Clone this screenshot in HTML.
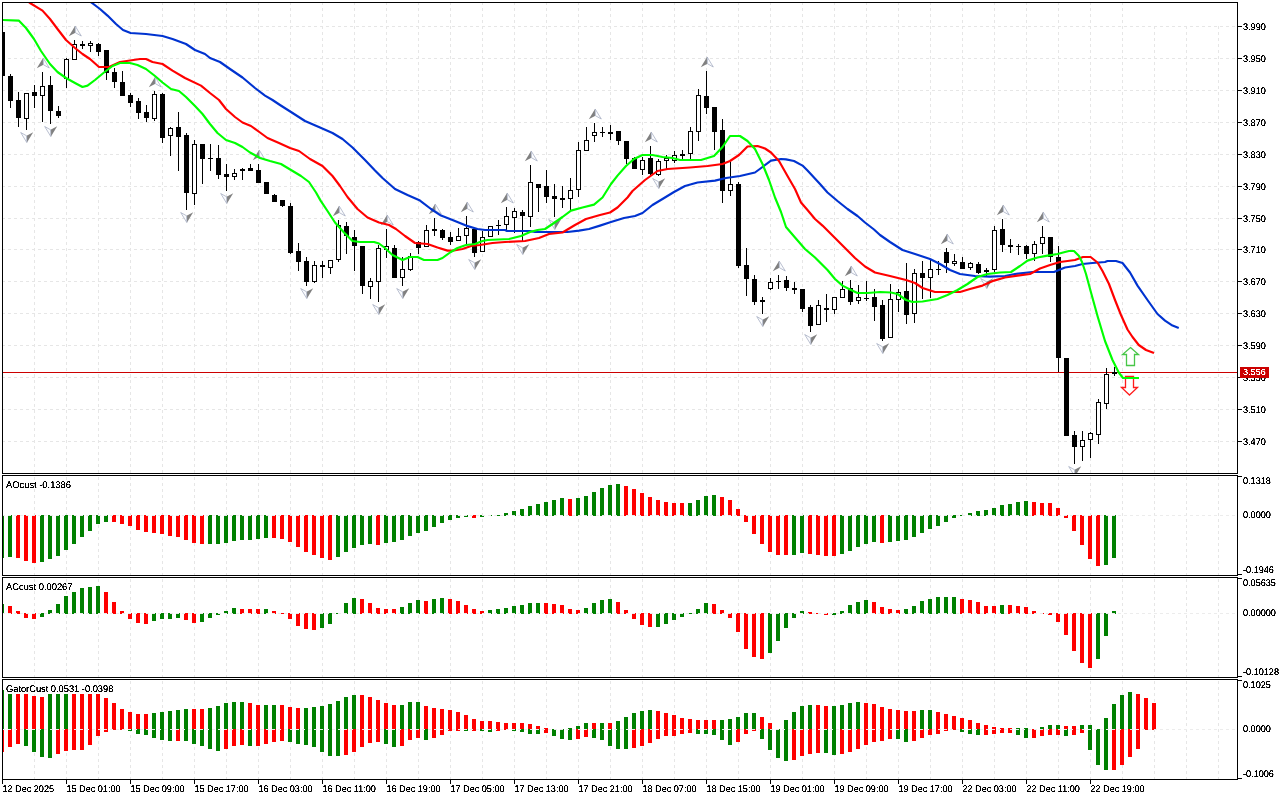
<!DOCTYPE html>
<html><head><meta charset="utf-8"><title>chart</title>
<style>html,body{margin:0;padding:0;background:#fff;overflow:hidden}body{width:1280px;height:800px;position:relative;font-family:"Liberation Sans",sans-serif}</style>
</head><body>
<svg width="1280" height="800" viewBox="0 0 1280 800" shape-rendering="crispEdges" style="position:absolute;left:0;top:0">
<rect width="1280" height="800" fill="#fff"/>
<defs>
<clipPath id="cm"><rect x="3" y="3" width="1234" height="470"/></clipPath>
<clipPath id="cw0"><rect x="3" y="476" width="1234" height="99"/></clipPath>
<clipPath id="cw1"><rect x="3" y="578" width="1234" height="99"/></clipPath>
<clipPath id="cw2"><rect x="3" y="680" width="1234" height="99"/></clipPath>
<filter id="crisp" x="0" y="0" width="1280" height="800" filterUnits="userSpaceOnUse" color-interpolation-filters="sRGB"><feComponentTransfer in="SourceAlpha"><feFuncA type="table" tableValues="0 0 0 0.15 0.8 1 1 1 1 1 1"/></feComponentTransfer></filter>
<filter id="crispw" x="0" y="0" width="1280" height="800" filterUnits="userSpaceOnUse" color-interpolation-filters="sRGB"><feComponentTransfer in="SourceAlpha" result="a"><feFuncA type="table" tableValues="0 0 0 0 0.35 0.85 1 1 1 1 1"/></feComponentTransfer><feFlood flood-color="#fff"/><feComposite in2="a" operator="in"/></filter>
</defs>
<g stroke-width="1" fill="none">
<line x1="2" y1="26.5" x2="1237" y2="26.5" stroke="#e6e6e6" stroke-dasharray="3 3"/>
<line x1="2" y1="58.5" x2="1237" y2="58.5" stroke="#e6e6e6" stroke-dasharray="3 3"/>
<line x1="2" y1="90.5" x2="1237" y2="90.5" stroke="#e6e6e6" stroke-dasharray="3 3"/>
<line x1="2" y1="122.5" x2="1237" y2="122.5" stroke="#e6e6e6" stroke-dasharray="3 3"/>
<line x1="2" y1="154.5" x2="1237" y2="154.5" stroke="#e6e6e6" stroke-dasharray="3 3"/>
<line x1="2" y1="186.5" x2="1237" y2="186.5" stroke="#e6e6e6" stroke-dasharray="3 3"/>
<line x1="2" y1="218.5" x2="1237" y2="218.5" stroke="#e6e6e6" stroke-dasharray="3 3"/>
<line x1="2" y1="249.5" x2="1237" y2="249.5" stroke="#e6e6e6" stroke-dasharray="3 3"/>
<line x1="2" y1="281.5" x2="1237" y2="281.5" stroke="#e6e6e6" stroke-dasharray="3 3"/>
<line x1="2" y1="313.5" x2="1237" y2="313.5" stroke="#e6e6e6" stroke-dasharray="3 3"/>
<line x1="2" y1="345.5" x2="1237" y2="345.5" stroke="#e6e6e6" stroke-dasharray="3 3"/>
<line x1="2" y1="377.5" x2="1237" y2="377.5" stroke="#e6e6e6" stroke-dasharray="3 3"/>
<line x1="2" y1="409.5" x2="1237" y2="409.5" stroke="#e6e6e6" stroke-dasharray="3 3"/>
<line x1="2" y1="441.5" x2="1237" y2="441.5" stroke="#e6e6e6" stroke-dasharray="3 3"/>
<line x1="34.5" y1="2" x2="34.5" y2="473" stroke="#e6e6e6" stroke-dasharray="3 3"/>
<line x1="66.5" y1="2" x2="66.5" y2="473" stroke="#e6e6e6" stroke-dasharray="3 3"/>
<line x1="98.5" y1="2" x2="98.5" y2="473" stroke="#e6e6e6" stroke-dasharray="3 3"/>
<line x1="130.5" y1="2" x2="130.5" y2="473" stroke="#e6e6e6" stroke-dasharray="3 3"/>
<line x1="162.5" y1="2" x2="162.5" y2="473" stroke="#e6e6e6" stroke-dasharray="3 3"/>
<line x1="194.5" y1="2" x2="194.5" y2="473" stroke="#e6e6e6" stroke-dasharray="3 3"/>
<line x1="226.5" y1="2" x2="226.5" y2="473" stroke="#e6e6e6" stroke-dasharray="3 3"/>
<line x1="258.5" y1="2" x2="258.5" y2="473" stroke="#e6e6e6" stroke-dasharray="3 3"/>
<line x1="290.5" y1="2" x2="290.5" y2="473" stroke="#e6e6e6" stroke-dasharray="3 3"/>
<line x1="322.5" y1="2" x2="322.5" y2="473" stroke="#e6e6e6" stroke-dasharray="3 3"/>
<line x1="354.5" y1="2" x2="354.5" y2="473" stroke="#e6e6e6" stroke-dasharray="3 3"/>
<line x1="386.5" y1="2" x2="386.5" y2="473" stroke="#e6e6e6" stroke-dasharray="3 3"/>
<line x1="418.5" y1="2" x2="418.5" y2="473" stroke="#e6e6e6" stroke-dasharray="3 3"/>
<line x1="450.5" y1="2" x2="450.5" y2="473" stroke="#e6e6e6" stroke-dasharray="3 3"/>
<line x1="482.5" y1="2" x2="482.5" y2="473" stroke="#e6e6e6" stroke-dasharray="3 3"/>
<line x1="514.5" y1="2" x2="514.5" y2="473" stroke="#e6e6e6" stroke-dasharray="3 3"/>
<line x1="546.5" y1="2" x2="546.5" y2="473" stroke="#e6e6e6" stroke-dasharray="3 3"/>
<line x1="578.5" y1="2" x2="578.5" y2="473" stroke="#e6e6e6" stroke-dasharray="3 3"/>
<line x1="610.5" y1="2" x2="610.5" y2="473" stroke="#e6e6e6" stroke-dasharray="3 3"/>
<line x1="642.5" y1="2" x2="642.5" y2="473" stroke="#e6e6e6" stroke-dasharray="3 3"/>
<line x1="674.5" y1="2" x2="674.5" y2="473" stroke="#e6e6e6" stroke-dasharray="3 3"/>
<line x1="706.5" y1="2" x2="706.5" y2="473" stroke="#e6e6e6" stroke-dasharray="3 3"/>
<line x1="738.5" y1="2" x2="738.5" y2="473" stroke="#e6e6e6" stroke-dasharray="3 3"/>
<line x1="770.5" y1="2" x2="770.5" y2="473" stroke="#e6e6e6" stroke-dasharray="3 3"/>
<line x1="802.5" y1="2" x2="802.5" y2="473" stroke="#e6e6e6" stroke-dasharray="3 3"/>
<line x1="834.5" y1="2" x2="834.5" y2="473" stroke="#e6e6e6" stroke-dasharray="3 3"/>
<line x1="866.5" y1="2" x2="866.5" y2="473" stroke="#e6e6e6" stroke-dasharray="3 3"/>
<line x1="898.5" y1="2" x2="898.5" y2="473" stroke="#e6e6e6" stroke-dasharray="3 3"/>
<line x1="930.5" y1="2" x2="930.5" y2="473" stroke="#e6e6e6" stroke-dasharray="3 3"/>
<line x1="962.5" y1="2" x2="962.5" y2="473" stroke="#e6e6e6" stroke-dasharray="3 3"/>
<line x1="994.5" y1="2" x2="994.5" y2="473" stroke="#e6e6e6" stroke-dasharray="3 3"/>
<line x1="1026.5" y1="2" x2="1026.5" y2="473" stroke="#e6e6e6" stroke-dasharray="3 3"/>
<line x1="1058.5" y1="2" x2="1058.5" y2="473" stroke="#e6e6e6" stroke-dasharray="3 3"/>
<line x1="1090.5" y1="2" x2="1090.5" y2="473" stroke="#e6e6e6" stroke-dasharray="3 3"/>
<line x1="1122.5" y1="2" x2="1122.5" y2="473" stroke="#e6e6e6" stroke-dasharray="3 3"/>
<line x1="1154.5" y1="26" x2="1154.5" y2="473" stroke="#e6e6e6" stroke-dasharray="3 3"/>
<line x1="1186.5" y1="26" x2="1186.5" y2="473" stroke="#e6e6e6" stroke-dasharray="3 3"/>
<line x1="1218.5" y1="26" x2="1218.5" y2="473" stroke="#e6e6e6" stroke-dasharray="3 3"/>
</g>
<line x1="3" y1="372.5" x2="1237" y2="372.5" stroke="#cc0000"/>
<g clip-path="url(#cm)">
<rect x="2" y="32" width="1" height="44" fill="#000"/>
<rect x="0" y="32" width="5" height="44" fill="#000"/>
<rect x="10" y="74" width="1" height="34" fill="#000"/>
<rect x="8" y="76" width="5" height="25" fill="#000"/>
<rect x="18" y="92" width="1" height="35" fill="#000"/>
<rect x="16" y="100" width="5" height="18" fill="#000"/>
<rect x="26" y="93" width="1" height="37" fill="#000"/>
<rect x="24.5" y="93.5" width="4" height="25" fill="#fff" stroke="#000" stroke-width="1"/>
<rect x="34" y="85" width="1" height="23" fill="#000"/>
<rect x="32" y="92" width="5" height="4" fill="#000"/>
<rect x="42" y="72" width="1" height="50" fill="#000"/>
<rect x="40.5" y="86.5" width="4" height="9" fill="#fff" stroke="#000" stroke-width="1"/>
<rect x="50" y="76" width="1" height="48" fill="#000"/>
<rect x="48" y="85" width="5" height="26" fill="#000"/>
<rect x="58" y="106" width="1" height="12" fill="#000"/>
<rect x="56" y="111" width="5" height="5" fill="#000"/>
<rect x="66" y="58" width="1" height="30" fill="#000"/>
<rect x="64.5" y="59.5" width="4" height="19" fill="#fff" stroke="#000" stroke-width="1"/>
<rect x="74" y="40" width="1" height="20" fill="#000"/>
<rect x="72.5" y="44.5" width="4" height="15" fill="#fff" stroke="#000" stroke-width="1"/>
<rect x="82" y="41" width="1" height="8" fill="#000"/>
<rect x="80" y="44" width="5" height="2" fill="#000"/>
<rect x="90" y="41" width="1" height="11" fill="#000"/>
<rect x="88.5" y="43.5" width="4" height="2" fill="#fff" stroke="#000" stroke-width="1"/>
<rect x="98" y="43" width="1" height="13" fill="#000"/>
<rect x="96" y="44" width="5" height="8" fill="#000"/>
<rect x="106" y="50" width="1" height="30" fill="#000"/>
<rect x="104" y="50" width="5" height="23" fill="#000"/>
<rect x="114" y="68" width="1" height="20" fill="#000"/>
<rect x="112" y="72" width="5" height="10" fill="#000"/>
<rect x="122" y="71" width="1" height="25" fill="#000"/>
<rect x="120" y="82" width="5" height="14" fill="#000"/>
<rect x="130" y="93" width="1" height="14" fill="#000"/>
<rect x="128" y="95" width="5" height="8" fill="#000"/>
<rect x="138" y="98" width="1" height="21" fill="#000"/>
<rect x="136" y="101" width="5" height="12" fill="#000"/>
<rect x="146" y="105" width="1" height="17" fill="#000"/>
<rect x="144" y="112" width="5" height="6" fill="#000"/>
<rect x="154" y="91" width="1" height="30" fill="#000"/>
<rect x="152.5" y="94.5" width="4" height="24" fill="#fff" stroke="#000" stroke-width="1"/>
<rect x="162" y="93" width="1" height="50" fill="#000"/>
<rect x="160" y="94" width="5" height="44" fill="#000"/>
<rect x="170" y="127" width="1" height="29" fill="#000"/>
<rect x="168.5" y="128.5" width="4" height="7" fill="#fff" stroke="#000" stroke-width="1"/>
<rect x="178" y="112" width="1" height="59" fill="#000"/>
<rect x="176" y="127" width="5" height="10" fill="#000"/>
<rect x="186" y="133" width="1" height="77" fill="#000"/>
<rect x="184" y="135" width="5" height="58" fill="#000"/>
<rect x="194" y="140" width="1" height="65" fill="#000"/>
<rect x="192.5" y="144.5" width="4" height="49" fill="#fff" stroke="#000" stroke-width="1"/>
<rect x="202" y="144" width="1" height="40" fill="#000"/>
<rect x="200" y="144" width="5" height="15" fill="#000"/>
<rect x="210" y="144" width="1" height="27" fill="#000"/>
<rect x="208" y="158" width="5" height="1" fill="#000"/>
<rect x="218" y="145" width="1" height="34" fill="#000"/>
<rect x="216" y="158" width="5" height="17" fill="#000"/>
<rect x="226" y="164" width="1" height="27" fill="#000"/>
<rect x="224" y="174" width="5" height="3" fill="#000"/>
<rect x="234" y="169" width="1" height="11" fill="#000"/>
<rect x="232.5" y="173.5" width="4" height="3" fill="#fff" stroke="#000" stroke-width="1"/>
<rect x="242" y="168" width="1" height="12" fill="#000"/>
<rect x="240" y="169" width="5" height="2" fill="#000"/>
<rect x="250" y="164" width="1" height="7" fill="#000"/>
<rect x="248" y="168" width="5" height="3" fill="#000"/>
<rect x="258" y="164" width="1" height="19" fill="#000"/>
<rect x="256" y="170" width="5" height="13" fill="#000"/>
<rect x="266" y="182" width="1" height="12" fill="#000"/>
<rect x="264" y="182" width="5" height="12" fill="#000"/>
<rect x="274" y="194" width="1" height="8" fill="#000"/>
<rect x="272" y="195" width="5" height="7" fill="#000"/>
<rect x="282" y="200" width="1" height="7" fill="#000"/>
<rect x="280" y="200" width="5" height="6" fill="#000"/>
<rect x="290" y="203" width="1" height="51" fill="#000"/>
<rect x="288" y="206" width="5" height="47" fill="#000"/>
<rect x="298" y="243" width="1" height="28" fill="#000"/>
<rect x="296" y="251" width="5" height="11" fill="#000"/>
<rect x="306" y="257" width="1" height="29" fill="#000"/>
<rect x="304" y="261" width="5" height="21" fill="#000"/>
<rect x="314" y="261" width="1" height="22" fill="#000"/>
<rect x="312.5" y="265.5" width="4" height="16" fill="#fff" stroke="#000" stroke-width="1"/>
<rect x="322" y="261" width="1" height="17" fill="#000"/>
<rect x="320" y="265" width="5" height="2" fill="#000"/>
<rect x="330" y="260" width="1" height="14" fill="#000"/>
<rect x="328.5" y="260.5" width="4" height="7" fill="#fff" stroke="#000" stroke-width="1"/>
<rect x="338" y="220" width="1" height="42" fill="#000"/>
<rect x="336.5" y="225.5" width="4" height="34" fill="#fff" stroke="#000" stroke-width="1"/>
<rect x="346" y="222" width="1" height="32" fill="#000"/>
<rect x="344" y="226" width="5" height="10" fill="#000"/>
<rect x="354" y="230" width="1" height="41" fill="#000"/>
<rect x="352" y="237" width="5" height="9" fill="#000"/>
<rect x="362" y="246" width="1" height="48" fill="#000"/>
<rect x="360" y="246" width="5" height="40" fill="#000"/>
<rect x="370" y="278" width="1" height="21" fill="#000"/>
<rect x="368.5" y="281.5" width="4" height="5" fill="#fff" stroke="#000" stroke-width="1"/>
<rect x="378" y="245" width="1" height="57" fill="#000"/>
<rect x="376.5" y="248.5" width="4" height="33" fill="#fff" stroke="#000" stroke-width="1"/>
<rect x="386" y="229" width="1" height="29" fill="#000"/>
<rect x="384.5" y="246.5" width="4" height="3" fill="#fff" stroke="#000" stroke-width="1"/>
<rect x="394" y="245" width="1" height="33" fill="#000"/>
<rect x="392" y="248" width="5" height="30" fill="#000"/>
<rect x="402" y="257" width="1" height="29" fill="#000"/>
<rect x="400.5" y="269.5" width="4" height="8" fill="#fff" stroke="#000" stroke-width="1"/>
<rect x="410" y="253" width="1" height="18" fill="#000"/>
<rect x="408.5" y="256.5" width="4" height="13" fill="#fff" stroke="#000" stroke-width="1"/>
<rect x="418" y="241" width="1" height="13" fill="#000"/>
<rect x="416" y="242" width="5" height="6" fill="#000"/>
<rect x="426" y="225" width="1" height="22" fill="#000"/>
<rect x="424.5" y="230.5" width="4" height="16" fill="#fff" stroke="#000" stroke-width="1"/>
<rect x="434" y="218" width="1" height="18" fill="#000"/>
<rect x="432" y="229" width="5" height="2" fill="#000"/>
<rect x="442" y="229" width="1" height="11" fill="#000"/>
<rect x="440" y="230" width="5" height="8" fill="#000"/>
<rect x="450" y="232" width="1" height="13" fill="#000"/>
<rect x="448" y="237" width="5" height="5" fill="#000"/>
<rect x="458" y="228" width="1" height="13" fill="#000"/>
<rect x="456.5" y="236.5" width="4" height="4" fill="#fff" stroke="#000" stroke-width="1"/>
<rect x="466" y="216" width="1" height="28" fill="#000"/>
<rect x="464.5" y="228.5" width="4" height="7" fill="#fff" stroke="#000" stroke-width="1"/>
<rect x="474" y="229" width="1" height="28" fill="#000"/>
<rect x="472" y="229" width="5" height="24" fill="#000"/>
<rect x="482" y="231" width="1" height="21" fill="#000"/>
<rect x="480.5" y="237.5" width="4" height="14" fill="#fff" stroke="#000" stroke-width="1"/>
<rect x="490" y="226" width="1" height="11" fill="#000"/>
<rect x="488.5" y="226.5" width="4" height="10" fill="#fff" stroke="#000" stroke-width="1"/>
<rect x="498" y="220" width="1" height="15" fill="#000"/>
<rect x="496" y="225" width="5" height="1" fill="#000"/>
<rect x="506" y="207" width="1" height="23" fill="#000"/>
<rect x="504.5" y="216.5" width="4" height="8" fill="#fff" stroke="#000" stroke-width="1"/>
<rect x="514" y="208" width="1" height="25" fill="#000"/>
<rect x="512.5" y="211.5" width="4" height="6" fill="#fff" stroke="#000" stroke-width="1"/>
<rect x="522" y="210" width="1" height="32" fill="#000"/>
<rect x="520" y="212" width="5" height="4" fill="#000"/>
<rect x="530" y="165" width="1" height="62" fill="#000"/>
<rect x="528.5" y="182.5" width="4" height="34" fill="#fff" stroke="#000" stroke-width="1"/>
<rect x="538" y="184" width="1" height="28" fill="#000"/>
<rect x="536" y="184" width="5" height="4" fill="#000"/>
<rect x="546" y="170" width="1" height="33" fill="#000"/>
<rect x="544" y="186" width="5" height="11" fill="#000"/>
<rect x="554" y="184" width="1" height="33" fill="#000"/>
<rect x="552" y="196" width="5" height="3" fill="#000"/>
<rect x="562" y="186" width="1" height="22" fill="#000"/>
<rect x="560" y="198" width="5" height="2" fill="#000"/>
<rect x="570" y="178" width="1" height="32" fill="#000"/>
<rect x="568.5" y="190.5" width="4" height="8" fill="#fff" stroke="#000" stroke-width="1"/>
<rect x="578" y="142" width="1" height="55" fill="#000"/>
<rect x="576.5" y="150.5" width="4" height="39" fill="#fff" stroke="#000" stroke-width="1"/>
<rect x="586" y="127" width="1" height="24" fill="#000"/>
<rect x="584.5" y="140.5" width="4" height="10" fill="#fff" stroke="#000" stroke-width="1"/>
<rect x="594" y="123" width="1" height="19" fill="#000"/>
<rect x="592.5" y="132.5" width="4" height="3" fill="#fff" stroke="#000" stroke-width="1"/>
<rect x="602" y="127" width="1" height="10" fill="#000"/>
<rect x="600" y="132" width="5" height="1" fill="#000"/>
<rect x="610" y="125" width="1" height="15" fill="#000"/>
<rect x="608" y="132" width="5" height="2" fill="#000"/>
<rect x="618" y="131" width="1" height="14" fill="#000"/>
<rect x="616" y="131" width="5" height="10" fill="#000"/>
<rect x="626" y="141" width="1" height="23" fill="#000"/>
<rect x="624" y="141" width="5" height="18" fill="#000"/>
<rect x="634" y="157" width="1" height="12" fill="#000"/>
<rect x="632" y="158" width="5" height="11" fill="#000"/>
<rect x="642" y="157" width="1" height="18" fill="#000"/>
<rect x="640.5" y="160.5" width="4" height="9" fill="#fff" stroke="#000" stroke-width="1"/>
<rect x="650" y="146" width="1" height="29" fill="#000"/>
<rect x="648" y="158" width="5" height="16" fill="#000"/>
<rect x="658" y="159" width="1" height="17" fill="#000"/>
<rect x="656.5" y="161.5" width="4" height="13" fill="#fff" stroke="#000" stroke-width="1"/>
<rect x="666" y="155" width="1" height="14" fill="#000"/>
<rect x="664.5" y="158.5" width="4" height="2" fill="#fff" stroke="#000" stroke-width="1"/>
<rect x="674" y="151" width="1" height="12" fill="#000"/>
<rect x="672.5" y="155.5" width="4" height="5" fill="#fff" stroke="#000" stroke-width="1"/>
<rect x="682" y="150" width="1" height="9" fill="#000"/>
<rect x="680" y="154" width="5" height="2" fill="#000"/>
<rect x="690" y="127" width="1" height="32" fill="#000"/>
<rect x="688.5" y="131.5" width="4" height="22" fill="#fff" stroke="#000" stroke-width="1"/>
<rect x="698" y="89" width="1" height="52" fill="#000"/>
<rect x="696.5" y="95.5" width="4" height="36" fill="#fff" stroke="#000" stroke-width="1"/>
<rect x="706" y="71" width="1" height="43" fill="#000"/>
<rect x="704" y="96" width="5" height="12" fill="#000"/>
<rect x="714" y="107" width="1" height="43" fill="#000"/>
<rect x="712" y="107" width="5" height="25" fill="#000"/>
<rect x="722" y="119" width="1" height="84" fill="#000"/>
<rect x="720" y="130" width="5" height="61" fill="#000"/>
<rect x="730" y="162" width="1" height="34" fill="#000"/>
<rect x="728.5" y="184.5" width="4" height="6" fill="#fff" stroke="#000" stroke-width="1"/>
<rect x="738" y="182" width="1" height="86" fill="#000"/>
<rect x="736" y="184" width="5" height="82" fill="#000"/>
<rect x="746" y="248" width="1" height="48" fill="#000"/>
<rect x="744" y="265" width="5" height="14" fill="#000"/>
<rect x="754" y="275" width="1" height="30" fill="#000"/>
<rect x="752" y="279" width="5" height="23" fill="#000"/>
<rect x="762" y="297" width="1" height="17" fill="#000"/>
<rect x="760" y="300" width="5" height="2" fill="#000"/>
<rect x="770" y="278" width="1" height="12" fill="#000"/>
<rect x="768.5" y="282.5" width="4" height="6" fill="#fff" stroke="#000" stroke-width="1"/>
<rect x="778" y="275" width="1" height="14" fill="#000"/>
<rect x="776" y="281" width="5" height="1" fill="#000"/>
<rect x="786" y="276" width="1" height="15" fill="#000"/>
<rect x="784" y="280" width="5" height="8" fill="#000"/>
<rect x="794" y="282" width="1" height="12" fill="#000"/>
<rect x="792" y="288" width="5" height="2" fill="#000"/>
<rect x="802" y="289" width="1" height="23" fill="#000"/>
<rect x="800" y="289" width="5" height="20" fill="#000"/>
<rect x="810" y="305" width="1" height="27" fill="#000"/>
<rect x="808" y="307" width="5" height="19" fill="#000"/>
<rect x="818" y="300" width="1" height="25" fill="#000"/>
<rect x="816.5" y="305.5" width="4" height="19" fill="#fff" stroke="#000" stroke-width="1"/>
<rect x="826" y="294" width="1" height="28" fill="#000"/>
<rect x="824" y="308" width="5" height="2" fill="#000"/>
<rect x="834" y="297" width="1" height="17" fill="#000"/>
<rect x="832.5" y="297.5" width="4" height="12" fill="#fff" stroke="#000" stroke-width="1"/>
<rect x="842" y="281" width="1" height="17" fill="#000"/>
<rect x="840.5" y="289.5" width="4" height="8" fill="#fff" stroke="#000" stroke-width="1"/>
<rect x="850" y="280" width="1" height="25" fill="#000"/>
<rect x="848" y="288" width="5" height="14" fill="#000"/>
<rect x="858" y="285" width="1" height="19" fill="#000"/>
<rect x="856.5" y="297.5" width="4" height="3" fill="#fff" stroke="#000" stroke-width="1"/>
<rect x="866" y="281" width="1" height="20" fill="#000"/>
<rect x="864" y="298" width="5" height="1" fill="#000"/>
<rect x="874" y="289" width="1" height="32" fill="#000"/>
<rect x="872" y="297" width="5" height="10" fill="#000"/>
<rect x="882" y="300" width="1" height="41" fill="#000"/>
<rect x="880" y="305" width="5" height="34" fill="#000"/>
<rect x="890" y="284" width="1" height="54" fill="#000"/>
<rect x="888.5" y="299.5" width="4" height="38" fill="#fff" stroke="#000" stroke-width="1"/>
<rect x="898" y="289" width="1" height="23" fill="#000"/>
<rect x="896.5" y="292.5" width="4" height="7" fill="#fff" stroke="#000" stroke-width="1"/>
<rect x="906" y="263" width="1" height="61" fill="#000"/>
<rect x="904" y="291" width="5" height="24" fill="#000"/>
<rect x="914" y="269" width="1" height="54" fill="#000"/>
<rect x="912.5" y="273.5" width="4" height="40" fill="#fff" stroke="#000" stroke-width="1"/>
<rect x="922" y="261" width="1" height="38" fill="#000"/>
<rect x="920" y="273" width="5" height="5" fill="#000"/>
<rect x="930" y="260" width="1" height="38" fill="#000"/>
<rect x="928.5" y="269.5" width="4" height="8" fill="#fff" stroke="#000" stroke-width="1"/>
<rect x="938" y="261" width="1" height="14" fill="#000"/>
<rect x="936" y="269" width="5" height="1" fill="#000"/>
<rect x="946" y="248" width="1" height="25" fill="#000"/>
<rect x="944" y="252" width="5" height="11" fill="#000"/>
<rect x="954" y="254" width="1" height="12" fill="#000"/>
<rect x="952.5" y="261.5" width="4" height="2" fill="#fff" stroke="#000" stroke-width="1"/>
<rect x="962" y="257" width="1" height="12" fill="#000"/>
<rect x="960" y="262" width="5" height="7" fill="#000"/>
<rect x="970" y="262" width="1" height="8" fill="#000"/>
<rect x="968.5" y="263.5" width="4" height="4" fill="#fff" stroke="#000" stroke-width="1"/>
<rect x="978" y="262" width="1" height="12" fill="#000"/>
<rect x="976" y="264" width="5" height="9" fill="#000"/>
<rect x="986" y="268" width="1" height="8" fill="#000"/>
<rect x="984" y="270" width="5" height="2" fill="#000"/>
<rect x="994" y="226" width="1" height="46" fill="#000"/>
<rect x="992.5" y="230.5" width="4" height="39" fill="#fff" stroke="#000" stroke-width="1"/>
<rect x="1002" y="219" width="1" height="33" fill="#000"/>
<rect x="1000" y="229" width="5" height="16" fill="#000"/>
<rect x="1010" y="239" width="1" height="14" fill="#000"/>
<rect x="1008" y="245" width="5" height="2" fill="#000"/>
<rect x="1018" y="244" width="1" height="11" fill="#000"/>
<rect x="1016" y="246" width="5" height="1" fill="#000"/>
<rect x="1026" y="245" width="1" height="14" fill="#000"/>
<rect x="1024" y="246" width="5" height="8" fill="#000"/>
<rect x="1034" y="241" width="1" height="20" fill="#000"/>
<rect x="1032.5" y="244.5" width="4" height="9" fill="#fff" stroke="#000" stroke-width="1"/>
<rect x="1042" y="226" width="1" height="28" fill="#000"/>
<rect x="1040.5" y="237.5" width="4" height="6" fill="#fff" stroke="#000" stroke-width="1"/>
<rect x="1050" y="237" width="1" height="25" fill="#000"/>
<rect x="1048" y="237" width="5" height="20" fill="#000"/>
<rect x="1058" y="246" width="1" height="126" fill="#000"/>
<rect x="1056" y="257" width="5" height="101" fill="#000"/>
<rect x="1066" y="358" width="1" height="78" fill="#000"/>
<rect x="1064" y="358" width="5" height="78" fill="#000"/>
<rect x="1074" y="431" width="1" height="33" fill="#000"/>
<rect x="1072" y="435" width="5" height="12" fill="#000"/>
<rect x="1082" y="431" width="1" height="30" fill="#000"/>
<rect x="1080.5" y="440.5" width="4" height="6" fill="#fff" stroke="#000" stroke-width="1"/>
<rect x="1090" y="432" width="1" height="26" fill="#000"/>
<rect x="1088.5" y="433.5" width="4" height="6" fill="#fff" stroke="#000" stroke-width="1"/>
<rect x="1098" y="399" width="1" height="45" fill="#000"/>
<rect x="1096.5" y="402.5" width="4" height="32" fill="#fff" stroke="#000" stroke-width="1"/>
<rect x="1106" y="368" width="1" height="41" fill="#000"/>
<rect x="1104.5" y="374.5" width="4" height="29" fill="#fff" stroke="#000" stroke-width="1"/>
<rect x="1114" y="367" width="1" height="9" fill="#000"/>
<rect x="1112" y="372" width="5" height="2" fill="#000"/>
</g>
<g clip-path="url(#cm)">
<g shape-rendering="geometricPrecision" fill="#fff" stroke-width="1.3">
<polygon points="1130.5,347.5 1138.5,354.5 1134.5,354.5 1134.5,365.5 1126.5,365.5 1126.5,354.5 1122.5,354.5" stroke="#48c648"/>
<polygon points="1129.5,395 1137.5,387.5 1133.5,387.5 1133.5,376.5 1125.5,376.5 1125.5,387.5 1121.5,387.5" stroke="#ff1a1a" fill="none"/>
</g>
<g transform="translate(43,58)" shape-rendering="geometricPrecision"><polygon points="0.2,-0.2 -6.2,10.2 0.4,6.7" fill="#808080"/><polygon points="0.2,0 6.3,10 0.4,6.7" fill="#fbfcfe" stroke="#a3abc0" stroke-width="0.75" stroke-linejoin="round"/></g>
<g transform="translate(75,26)" shape-rendering="geometricPrecision"><polygon points="0.2,-0.2 -6.2,10.2 0.4,6.7" fill="#808080"/><polygon points="0.2,0 6.3,10 0.4,6.7" fill="#fbfcfe" stroke="#a3abc0" stroke-width="0.75" stroke-linejoin="round"/></g>
<g transform="translate(155,77)" shape-rendering="geometricPrecision"><polygon points="0.2,-0.2 -6.2,10.2 0.4,6.7" fill="#808080"/><polygon points="0.2,0 6.3,10 0.4,6.7" fill="#fbfcfe" stroke="#a3abc0" stroke-width="0.75" stroke-linejoin="round"/></g>
<g transform="translate(259,150)" shape-rendering="geometricPrecision"><polygon points="0.2,-0.2 -6.2,10.2 0.4,6.7" fill="#808080"/><polygon points="0.2,0 6.3,10 0.4,6.7" fill="#fbfcfe" stroke="#a3abc0" stroke-width="0.75" stroke-linejoin="round"/></g>
<g transform="translate(339,206)" shape-rendering="geometricPrecision"><polygon points="0.2,-0.2 -6.2,10.2 0.4,6.7" fill="#808080"/><polygon points="0.2,0 6.3,10 0.4,6.7" fill="#fbfcfe" stroke="#a3abc0" stroke-width="0.75" stroke-linejoin="round"/></g>
<g transform="translate(387,215)" shape-rendering="geometricPrecision"><polygon points="0.2,-0.2 -6.2,10.2 0.4,6.7" fill="#808080"/><polygon points="0.2,0 6.3,10 0.4,6.7" fill="#fbfcfe" stroke="#a3abc0" stroke-width="0.75" stroke-linejoin="round"/></g>
<g transform="translate(435,204)" shape-rendering="geometricPrecision"><polygon points="0.2,-0.2 -6.2,10.2 0.4,6.7" fill="#808080"/><polygon points="0.2,0 6.3,10 0.4,6.7" fill="#fbfcfe" stroke="#a3abc0" stroke-width="0.75" stroke-linejoin="round"/></g>
<g transform="translate(467,202)" shape-rendering="geometricPrecision"><polygon points="0.2,-0.2 -6.2,10.2 0.4,6.7" fill="#808080"/><polygon points="0.2,0 6.3,10 0.4,6.7" fill="#fbfcfe" stroke="#a3abc0" stroke-width="0.75" stroke-linejoin="round"/></g>
<g transform="translate(507,193)" shape-rendering="geometricPrecision"><polygon points="0.2,-0.2 -6.2,10.2 0.4,6.7" fill="#808080"/><polygon points="0.2,0 6.3,10 0.4,6.7" fill="#fbfcfe" stroke="#a3abc0" stroke-width="0.75" stroke-linejoin="round"/></g>
<g transform="translate(531,151)" shape-rendering="geometricPrecision"><polygon points="0.2,-0.2 -6.2,10.2 0.4,6.7" fill="#808080"/><polygon points="0.2,0 6.3,10 0.4,6.7" fill="#fbfcfe" stroke="#a3abc0" stroke-width="0.75" stroke-linejoin="round"/></g>
<g transform="translate(595,109)" shape-rendering="geometricPrecision"><polygon points="0.2,-0.2 -6.2,10.2 0.4,6.7" fill="#808080"/><polygon points="0.2,0 6.3,10 0.4,6.7" fill="#fbfcfe" stroke="#a3abc0" stroke-width="0.75" stroke-linejoin="round"/></g>
<g transform="translate(651,132)" shape-rendering="geometricPrecision"><polygon points="0.2,-0.2 -6.2,10.2 0.4,6.7" fill="#808080"/><polygon points="0.2,0 6.3,10 0.4,6.7" fill="#fbfcfe" stroke="#a3abc0" stroke-width="0.75" stroke-linejoin="round"/></g>
<g transform="translate(707,57)" shape-rendering="geometricPrecision"><polygon points="0.2,-0.2 -6.2,10.2 0.4,6.7" fill="#808080"/><polygon points="0.2,0 6.3,10 0.4,6.7" fill="#fbfcfe" stroke="#a3abc0" stroke-width="0.75" stroke-linejoin="round"/></g>
<g transform="translate(779,261)" shape-rendering="geometricPrecision"><polygon points="0.2,-0.2 -6.2,10.2 0.4,6.7" fill="#808080"/><polygon points="0.2,0 6.3,10 0.4,6.7" fill="#fbfcfe" stroke="#a3abc0" stroke-width="0.75" stroke-linejoin="round"/></g>
<g transform="translate(851,266)" shape-rendering="geometricPrecision"><polygon points="0.2,-0.2 -6.2,10.2 0.4,6.7" fill="#808080"/><polygon points="0.2,0 6.3,10 0.4,6.7" fill="#fbfcfe" stroke="#a3abc0" stroke-width="0.75" stroke-linejoin="round"/></g>
<g transform="translate(947,234)" shape-rendering="geometricPrecision"><polygon points="0.2,-0.2 -6.2,10.2 0.4,6.7" fill="#808080"/><polygon points="0.2,0 6.3,10 0.4,6.7" fill="#fbfcfe" stroke="#a3abc0" stroke-width="0.75" stroke-linejoin="round"/></g>
<g transform="translate(1003,205)" shape-rendering="geometricPrecision"><polygon points="0.2,-0.2 -6.2,10.2 0.4,6.7" fill="#808080"/><polygon points="0.2,0 6.3,10 0.4,6.7" fill="#fbfcfe" stroke="#a3abc0" stroke-width="0.75" stroke-linejoin="round"/></g>
<g transform="translate(1043,212)" shape-rendering="geometricPrecision"><polygon points="0.2,-0.2 -6.2,10.2 0.4,6.7" fill="#808080"/><polygon points="0.2,0 6.3,10 0.4,6.7" fill="#fbfcfe" stroke="#a3abc0" stroke-width="0.75" stroke-linejoin="round"/></g>
<g transform="translate(27,142.5) rotate(180)" shape-rendering="geometricPrecision"><polygon points="0.2,-0.2 -6.2,10.2 0.4,6.7" fill="#808080"/><polygon points="0.2,0 6.3,10 0.4,6.7" fill="#fbfcfe" stroke="#a3abc0" stroke-width="0.75" stroke-linejoin="round"/></g>
<g transform="translate(51,136.5) rotate(180)" shape-rendering="geometricPrecision"><polygon points="0.2,-0.2 -6.2,10.2 0.4,6.7" fill="#808080"/><polygon points="0.2,0 6.3,10 0.4,6.7" fill="#fbfcfe" stroke="#a3abc0" stroke-width="0.75" stroke-linejoin="round"/></g>
<g transform="translate(187,222.5) rotate(180)" shape-rendering="geometricPrecision"><polygon points="0.2,-0.2 -6.2,10.2 0.4,6.7" fill="#808080"/><polygon points="0.2,0 6.3,10 0.4,6.7" fill="#fbfcfe" stroke="#a3abc0" stroke-width="0.75" stroke-linejoin="round"/></g>
<g transform="translate(227,203.5) rotate(180)" shape-rendering="geometricPrecision"><polygon points="0.2,-0.2 -6.2,10.2 0.4,6.7" fill="#808080"/><polygon points="0.2,0 6.3,10 0.4,6.7" fill="#fbfcfe" stroke="#a3abc0" stroke-width="0.75" stroke-linejoin="round"/></g>
<g transform="translate(307,298.5) rotate(180)" shape-rendering="geometricPrecision"><polygon points="0.2,-0.2 -6.2,10.2 0.4,6.7" fill="#808080"/><polygon points="0.2,0 6.3,10 0.4,6.7" fill="#fbfcfe" stroke="#a3abc0" stroke-width="0.75" stroke-linejoin="round"/></g>
<g transform="translate(379,314.5) rotate(180)" shape-rendering="geometricPrecision"><polygon points="0.2,-0.2 -6.2,10.2 0.4,6.7" fill="#808080"/><polygon points="0.2,0 6.3,10 0.4,6.7" fill="#fbfcfe" stroke="#a3abc0" stroke-width="0.75" stroke-linejoin="round"/></g>
<g transform="translate(403,298.5) rotate(180)" shape-rendering="geometricPrecision"><polygon points="0.2,-0.2 -6.2,10.2 0.4,6.7" fill="#808080"/><polygon points="0.2,0 6.3,10 0.4,6.7" fill="#fbfcfe" stroke="#a3abc0" stroke-width="0.75" stroke-linejoin="round"/></g>
<g transform="translate(475,269.5) rotate(180)" shape-rendering="geometricPrecision"><polygon points="0.2,-0.2 -6.2,10.2 0.4,6.7" fill="#808080"/><polygon points="0.2,0 6.3,10 0.4,6.7" fill="#fbfcfe" stroke="#a3abc0" stroke-width="0.75" stroke-linejoin="round"/></g>
<g transform="translate(523,254.5) rotate(180)" shape-rendering="geometricPrecision"><polygon points="0.2,-0.2 -6.2,10.2 0.4,6.7" fill="#808080"/><polygon points="0.2,0 6.3,10 0.4,6.7" fill="#fbfcfe" stroke="#a3abc0" stroke-width="0.75" stroke-linejoin="round"/></g>
<g transform="translate(555,229.5) rotate(180)" shape-rendering="geometricPrecision"><polygon points="0.2,-0.2 -6.2,10.2 0.4,6.7" fill="#808080"/><polygon points="0.2,0 6.3,10 0.4,6.7" fill="#fbfcfe" stroke="#a3abc0" stroke-width="0.75" stroke-linejoin="round"/></g>
<g transform="translate(659,188.5) rotate(180)" shape-rendering="geometricPrecision"><polygon points="0.2,-0.2 -6.2,10.2 0.4,6.7" fill="#808080"/><polygon points="0.2,0 6.3,10 0.4,6.7" fill="#fbfcfe" stroke="#a3abc0" stroke-width="0.75" stroke-linejoin="round"/></g>
<g transform="translate(763,326.5) rotate(180)" shape-rendering="geometricPrecision"><polygon points="0.2,-0.2 -6.2,10.2 0.4,6.7" fill="#808080"/><polygon points="0.2,0 6.3,10 0.4,6.7" fill="#fbfcfe" stroke="#a3abc0" stroke-width="0.75" stroke-linejoin="round"/></g>
<g transform="translate(811,344.5) rotate(180)" shape-rendering="geometricPrecision"><polygon points="0.2,-0.2 -6.2,10.2 0.4,6.7" fill="#808080"/><polygon points="0.2,0 6.3,10 0.4,6.7" fill="#fbfcfe" stroke="#a3abc0" stroke-width="0.75" stroke-linejoin="round"/></g>
<g transform="translate(883,353.5) rotate(180)" shape-rendering="geometricPrecision"><polygon points="0.2,-0.2 -6.2,10.2 0.4,6.7" fill="#808080"/><polygon points="0.2,0 6.3,10 0.4,6.7" fill="#fbfcfe" stroke="#a3abc0" stroke-width="0.75" stroke-linejoin="round"/></g>
<g transform="translate(987,288.5) rotate(180)" shape-rendering="geometricPrecision"><polygon points="0.2,-0.2 -6.2,10.2 0.4,6.7" fill="#808080"/><polygon points="0.2,0 6.3,10 0.4,6.7" fill="#fbfcfe" stroke="#a3abc0" stroke-width="0.75" stroke-linejoin="round"/></g>
<g transform="translate(1075,476.5) rotate(180)" shape-rendering="geometricPrecision"><polygon points="0.2,-0.2 -6.2,10.2 0.4,6.7" fill="#808080"/><polygon points="0.2,0 6.3,10 0.4,6.7" fill="#fbfcfe" stroke="#a3abc0" stroke-width="0.75" stroke-linejoin="round"/></g>
<polyline points="84,-3 92,3 100,9 107.5,15.6 116,24 123,30 130.6,33 146,34 162.5,36 172.5,39 186,44 195,50 205,54 210,58 220,62 230,69 242.5,77.5 255,88 265,95.6 272.5,100 280,105 291,112 305,121 320,127.5 332.5,133 342.5,139 352.5,147.5 365,160 375,170.6 382.5,178 395,189 407.5,195 420,200.6 431,209 441,215.6 452.5,220 466,225.6 477.5,229 485,230 505,230 507,231 530,231 535,232 567.5,232 579,230.6 589,229 600,225.6 611,222 624,218 635,216 642.5,213 652.5,205 662.5,199 674,192 685,186 697.5,182.5 715,180.6 726,178 740,176 755,172.5 762.5,167 771,160.6 781,159 786,159.4 794,161 802.5,165.6 807.5,170.6 820,184 827.5,192.5 837.5,201 847.5,209 857.5,216 865,222.5 874,229.5 880,235 890,242 902.5,250 915,254 930,259 940,264 950,270 960,274 975,276 990,276.6 1005,276 1015,274 1032.5,272 1054,272 1065,267.5 1075,266 1082.5,264 1092.5,263 1105,262 1107.5,261 1116,261 1122.5,263 1130,272.5 1137.5,285.6 1147.5,300 1157.5,314 1165,320.6 1172.5,325.6 1178.75,328" fill="none" stroke="#0033d0" stroke-width="2.15" stroke-linejoin="round" shape-rendering="geometricPrecision"/>
<polyline points="22,-3 30,3 42.5,10.6 50,19 57.5,29 66,40 75,48 82.5,54 90,59 99,67 109,67 120,62 130,60.5 140,59 146,59 152.5,62 162.5,64 172.5,70.6 185,78 201,85.6 210,93 219,100 226,109 235,117 242.5,122.5 251,126 260,132.5 267.5,138 279,143 290,148 299,151 310,159 322.5,166 332.5,176 340,186 347.5,197 357.5,209 367.5,217.5 379,222.5 389,225 396,229 405,236 415,243 427.5,244 437.5,247.5 447.5,250.6 452.5,250.6 462.5,249 472.5,245.6 480,245 492.5,243 505,242 525,241 539,238 549,234 562.5,232.5 575,225 586,219 600,215 610,212.5 617.5,207.5 627.5,197.5 632.5,191 645,180 657.5,171 667.5,169 690,167.5 707.5,166 722.5,164 730,161 739,155 747.5,146.5 757.5,146 765,148.5 771,152.5 779,161 787.5,176 795,189 801,202.5 807.5,210 815,219 822.5,225.6 835,238 845,248 855,258 865,266.5 875,272.5 890,276 906,280 915,283 922.5,288 935,292 947.5,292 960,292 970,289 982.5,285.6 994,280.6 1005,277.5 1017.5,275.6 1030,274 1040,268.5 1050,265 1060,262 1075,260 1083,257 1090.6,257 1097.5,262.5 1102.5,271 1109,284 1115,300 1121,315 1127.5,329.5 1132.5,337 1138.75,345 1146,350 1154,353" fill="none" stroke="#ff0000" stroke-width="2.15" stroke-linejoin="round" shape-rendering="geometricPrecision"/>
<polyline points="3,20 18.75,20.6 26,28 34,39 41,51 50,64 57.5,72 66,78 75,83 82.5,87 87.5,85.6 95,80 104,72.5 112.5,66 120,63 130,63 137.5,65 146,69 155,76 162.5,82.5 171,89 179,91 186,97 195,106 202.5,114 210,124 217.5,133 226,140 235,143 242.5,147 250,152.5 260,158 270,161 281,164 291,170 301,176 309,182 316,192.5 320.6,200.6 327.5,211 335,222.5 344,232.5 352.5,241 360,242 374,242 379,243.5 385,248 392.5,255 402.5,260 410,257 417.5,257 424,260 437.5,260 442.5,258 450,252.5 457.5,248 466,245 475,244 482.5,241 487.5,240 509,239 521,236 530,232 537.5,230 545,229 552.5,224 562.5,217 571,210.6 582.5,207.5 594,204.6 602.5,197.5 611,184 617.5,175.6 626,166 634,159 642.5,155 652.5,155 662.5,157 672.5,158 680,160 701,160 714,156 722.5,147 730,136 740,136 747.5,141 755,149 762.5,164 769,180 775,197.5 781,212 786,227 795,237.5 805,249 815,257.5 827.5,270 835,279 842.5,285.6 851,290 857.5,293 867.5,293 880,292 891,292.5 897.5,294 906,300 912.5,302 922.5,301.5 937.5,299 947.5,295 957.5,290 967.5,284 977.5,277 987.5,274 1000,272.5 1011,272 1020,266 1027.5,260.6 1037.5,257.5 1047.5,255.6 1057.5,254 1065,252 1069,251 1074,251 1079,256 1082,262 1086,274 1091,292.5 1097.5,316 1105,341 1112.5,360 1118.75,372.5 1123,378 1139,378" fill="none" stroke="#00ff00" stroke-width="2.15" stroke-linejoin="round" shape-rendering="geometricPrecision"/>
</g>
<g stroke-width="1" fill="none">
<line x1="34.5" y1="477" x2="34.5" y2="575" stroke="#e6e6e6" stroke-dasharray="3 3"/>
<line x1="66.5" y1="477" x2="66.5" y2="575" stroke="#e6e6e6" stroke-dasharray="3 3"/>
<line x1="98.5" y1="477" x2="98.5" y2="575" stroke="#e6e6e6" stroke-dasharray="3 3"/>
<line x1="130.5" y1="477" x2="130.5" y2="575" stroke="#e6e6e6" stroke-dasharray="3 3"/>
<line x1="162.5" y1="477" x2="162.5" y2="575" stroke="#e6e6e6" stroke-dasharray="3 3"/>
<line x1="194.5" y1="477" x2="194.5" y2="575" stroke="#e6e6e6" stroke-dasharray="3 3"/>
<line x1="226.5" y1="477" x2="226.5" y2="575" stroke="#e6e6e6" stroke-dasharray="3 3"/>
<line x1="258.5" y1="477" x2="258.5" y2="575" stroke="#e6e6e6" stroke-dasharray="3 3"/>
<line x1="290.5" y1="477" x2="290.5" y2="575" stroke="#e6e6e6" stroke-dasharray="3 3"/>
<line x1="322.5" y1="477" x2="322.5" y2="575" stroke="#e6e6e6" stroke-dasharray="3 3"/>
<line x1="354.5" y1="477" x2="354.5" y2="575" stroke="#e6e6e6" stroke-dasharray="3 3"/>
<line x1="386.5" y1="477" x2="386.5" y2="575" stroke="#e6e6e6" stroke-dasharray="3 3"/>
<line x1="418.5" y1="477" x2="418.5" y2="575" stroke="#e6e6e6" stroke-dasharray="3 3"/>
<line x1="450.5" y1="477" x2="450.5" y2="575" stroke="#e6e6e6" stroke-dasharray="3 3"/>
<line x1="482.5" y1="477" x2="482.5" y2="575" stroke="#e6e6e6" stroke-dasharray="3 3"/>
<line x1="514.5" y1="477" x2="514.5" y2="575" stroke="#e6e6e6" stroke-dasharray="3 3"/>
<line x1="546.5" y1="477" x2="546.5" y2="575" stroke="#e6e6e6" stroke-dasharray="3 3"/>
<line x1="578.5" y1="477" x2="578.5" y2="575" stroke="#e6e6e6" stroke-dasharray="3 3"/>
<line x1="610.5" y1="477" x2="610.5" y2="575" stroke="#e6e6e6" stroke-dasharray="3 3"/>
<line x1="642.5" y1="477" x2="642.5" y2="575" stroke="#e6e6e6" stroke-dasharray="3 3"/>
<line x1="674.5" y1="477" x2="674.5" y2="575" stroke="#e6e6e6" stroke-dasharray="3 3"/>
<line x1="706.5" y1="477" x2="706.5" y2="575" stroke="#e6e6e6" stroke-dasharray="3 3"/>
<line x1="738.5" y1="477" x2="738.5" y2="575" stroke="#e6e6e6" stroke-dasharray="3 3"/>
<line x1="770.5" y1="477" x2="770.5" y2="575" stroke="#e6e6e6" stroke-dasharray="3 3"/>
<line x1="802.5" y1="477" x2="802.5" y2="575" stroke="#e6e6e6" stroke-dasharray="3 3"/>
<line x1="834.5" y1="477" x2="834.5" y2="575" stroke="#e6e6e6" stroke-dasharray="3 3"/>
<line x1="866.5" y1="477" x2="866.5" y2="575" stroke="#e6e6e6" stroke-dasharray="3 3"/>
<line x1="898.5" y1="477" x2="898.5" y2="575" stroke="#e6e6e6" stroke-dasharray="3 3"/>
<line x1="930.5" y1="477" x2="930.5" y2="575" stroke="#e6e6e6" stroke-dasharray="3 3"/>
<line x1="962.5" y1="477" x2="962.5" y2="575" stroke="#e6e6e6" stroke-dasharray="3 3"/>
<line x1="994.5" y1="477" x2="994.5" y2="575" stroke="#e6e6e6" stroke-dasharray="3 3"/>
<line x1="1026.5" y1="477" x2="1026.5" y2="575" stroke="#e6e6e6" stroke-dasharray="3 3"/>
<line x1="1058.5" y1="477" x2="1058.5" y2="575" stroke="#e6e6e6" stroke-dasharray="3 3"/>
<line x1="1090.5" y1="477" x2="1090.5" y2="575" stroke="#e6e6e6" stroke-dasharray="3 3"/>
<line x1="1122.5" y1="477" x2="1122.5" y2="575" stroke="#e6e6e6" stroke-dasharray="3 3"/>
<line x1="1154.5" y1="477" x2="1154.5" y2="575" stroke="#e6e6e6" stroke-dasharray="3 3"/>
<line x1="1186.5" y1="477" x2="1186.5" y2="575" stroke="#e6e6e6" stroke-dasharray="3 3"/>
<line x1="1218.5" y1="477" x2="1218.5" y2="575" stroke="#e6e6e6" stroke-dasharray="3 3"/>
<line x1="2" y1="515.5" x2="1237" y2="515.5" stroke="#e6e6e6" stroke-dasharray="3 3"/>
</g>
<g stroke-width="1" fill="none">
<line x1="34.5" y1="579" x2="34.5" y2="677" stroke="#e6e6e6" stroke-dasharray="3 3"/>
<line x1="66.5" y1="579" x2="66.5" y2="677" stroke="#e6e6e6" stroke-dasharray="3 3"/>
<line x1="98.5" y1="579" x2="98.5" y2="677" stroke="#e6e6e6" stroke-dasharray="3 3"/>
<line x1="130.5" y1="579" x2="130.5" y2="677" stroke="#e6e6e6" stroke-dasharray="3 3"/>
<line x1="162.5" y1="579" x2="162.5" y2="677" stroke="#e6e6e6" stroke-dasharray="3 3"/>
<line x1="194.5" y1="579" x2="194.5" y2="677" stroke="#e6e6e6" stroke-dasharray="3 3"/>
<line x1="226.5" y1="579" x2="226.5" y2="677" stroke="#e6e6e6" stroke-dasharray="3 3"/>
<line x1="258.5" y1="579" x2="258.5" y2="677" stroke="#e6e6e6" stroke-dasharray="3 3"/>
<line x1="290.5" y1="579" x2="290.5" y2="677" stroke="#e6e6e6" stroke-dasharray="3 3"/>
<line x1="322.5" y1="579" x2="322.5" y2="677" stroke="#e6e6e6" stroke-dasharray="3 3"/>
<line x1="354.5" y1="579" x2="354.5" y2="677" stroke="#e6e6e6" stroke-dasharray="3 3"/>
<line x1="386.5" y1="579" x2="386.5" y2="677" stroke="#e6e6e6" stroke-dasharray="3 3"/>
<line x1="418.5" y1="579" x2="418.5" y2="677" stroke="#e6e6e6" stroke-dasharray="3 3"/>
<line x1="450.5" y1="579" x2="450.5" y2="677" stroke="#e6e6e6" stroke-dasharray="3 3"/>
<line x1="482.5" y1="579" x2="482.5" y2="677" stroke="#e6e6e6" stroke-dasharray="3 3"/>
<line x1="514.5" y1="579" x2="514.5" y2="677" stroke="#e6e6e6" stroke-dasharray="3 3"/>
<line x1="546.5" y1="579" x2="546.5" y2="677" stroke="#e6e6e6" stroke-dasharray="3 3"/>
<line x1="578.5" y1="579" x2="578.5" y2="677" stroke="#e6e6e6" stroke-dasharray="3 3"/>
<line x1="610.5" y1="579" x2="610.5" y2="677" stroke="#e6e6e6" stroke-dasharray="3 3"/>
<line x1="642.5" y1="579" x2="642.5" y2="677" stroke="#e6e6e6" stroke-dasharray="3 3"/>
<line x1="674.5" y1="579" x2="674.5" y2="677" stroke="#e6e6e6" stroke-dasharray="3 3"/>
<line x1="706.5" y1="579" x2="706.5" y2="677" stroke="#e6e6e6" stroke-dasharray="3 3"/>
<line x1="738.5" y1="579" x2="738.5" y2="677" stroke="#e6e6e6" stroke-dasharray="3 3"/>
<line x1="770.5" y1="579" x2="770.5" y2="677" stroke="#e6e6e6" stroke-dasharray="3 3"/>
<line x1="802.5" y1="579" x2="802.5" y2="677" stroke="#e6e6e6" stroke-dasharray="3 3"/>
<line x1="834.5" y1="579" x2="834.5" y2="677" stroke="#e6e6e6" stroke-dasharray="3 3"/>
<line x1="866.5" y1="579" x2="866.5" y2="677" stroke="#e6e6e6" stroke-dasharray="3 3"/>
<line x1="898.5" y1="579" x2="898.5" y2="677" stroke="#e6e6e6" stroke-dasharray="3 3"/>
<line x1="930.5" y1="579" x2="930.5" y2="677" stroke="#e6e6e6" stroke-dasharray="3 3"/>
<line x1="962.5" y1="579" x2="962.5" y2="677" stroke="#e6e6e6" stroke-dasharray="3 3"/>
<line x1="994.5" y1="579" x2="994.5" y2="677" stroke="#e6e6e6" stroke-dasharray="3 3"/>
<line x1="1026.5" y1="579" x2="1026.5" y2="677" stroke="#e6e6e6" stroke-dasharray="3 3"/>
<line x1="1058.5" y1="579" x2="1058.5" y2="677" stroke="#e6e6e6" stroke-dasharray="3 3"/>
<line x1="1090.5" y1="579" x2="1090.5" y2="677" stroke="#e6e6e6" stroke-dasharray="3 3"/>
<line x1="1122.5" y1="579" x2="1122.5" y2="677" stroke="#e6e6e6" stroke-dasharray="3 3"/>
<line x1="1154.5" y1="579" x2="1154.5" y2="677" stroke="#e6e6e6" stroke-dasharray="3 3"/>
<line x1="1186.5" y1="579" x2="1186.5" y2="677" stroke="#e6e6e6" stroke-dasharray="3 3"/>
<line x1="1218.5" y1="579" x2="1218.5" y2="677" stroke="#e6e6e6" stroke-dasharray="3 3"/>
<line x1="2" y1="613.5" x2="1237" y2="613.5" stroke="#e6e6e6" stroke-dasharray="3 3"/>
</g>
<g stroke-width="1" fill="none">
<line x1="34.5" y1="681" x2="34.5" y2="779" stroke="#e6e6e6" stroke-dasharray="3 3"/>
<line x1="66.5" y1="681" x2="66.5" y2="779" stroke="#e6e6e6" stroke-dasharray="3 3"/>
<line x1="98.5" y1="681" x2="98.5" y2="779" stroke="#e6e6e6" stroke-dasharray="3 3"/>
<line x1="130.5" y1="681" x2="130.5" y2="779" stroke="#e6e6e6" stroke-dasharray="3 3"/>
<line x1="162.5" y1="681" x2="162.5" y2="779" stroke="#e6e6e6" stroke-dasharray="3 3"/>
<line x1="194.5" y1="681" x2="194.5" y2="779" stroke="#e6e6e6" stroke-dasharray="3 3"/>
<line x1="226.5" y1="681" x2="226.5" y2="779" stroke="#e6e6e6" stroke-dasharray="3 3"/>
<line x1="258.5" y1="681" x2="258.5" y2="779" stroke="#e6e6e6" stroke-dasharray="3 3"/>
<line x1="290.5" y1="681" x2="290.5" y2="779" stroke="#e6e6e6" stroke-dasharray="3 3"/>
<line x1="322.5" y1="681" x2="322.5" y2="779" stroke="#e6e6e6" stroke-dasharray="3 3"/>
<line x1="354.5" y1="681" x2="354.5" y2="779" stroke="#e6e6e6" stroke-dasharray="3 3"/>
<line x1="386.5" y1="681" x2="386.5" y2="779" stroke="#e6e6e6" stroke-dasharray="3 3"/>
<line x1="418.5" y1="681" x2="418.5" y2="779" stroke="#e6e6e6" stroke-dasharray="3 3"/>
<line x1="450.5" y1="681" x2="450.5" y2="779" stroke="#e6e6e6" stroke-dasharray="3 3"/>
<line x1="482.5" y1="681" x2="482.5" y2="779" stroke="#e6e6e6" stroke-dasharray="3 3"/>
<line x1="514.5" y1="681" x2="514.5" y2="779" stroke="#e6e6e6" stroke-dasharray="3 3"/>
<line x1="546.5" y1="681" x2="546.5" y2="779" stroke="#e6e6e6" stroke-dasharray="3 3"/>
<line x1="578.5" y1="681" x2="578.5" y2="779" stroke="#e6e6e6" stroke-dasharray="3 3"/>
<line x1="610.5" y1="681" x2="610.5" y2="779" stroke="#e6e6e6" stroke-dasharray="3 3"/>
<line x1="642.5" y1="681" x2="642.5" y2="779" stroke="#e6e6e6" stroke-dasharray="3 3"/>
<line x1="674.5" y1="681" x2="674.5" y2="779" stroke="#e6e6e6" stroke-dasharray="3 3"/>
<line x1="706.5" y1="681" x2="706.5" y2="779" stroke="#e6e6e6" stroke-dasharray="3 3"/>
<line x1="738.5" y1="681" x2="738.5" y2="779" stroke="#e6e6e6" stroke-dasharray="3 3"/>
<line x1="770.5" y1="681" x2="770.5" y2="779" stroke="#e6e6e6" stroke-dasharray="3 3"/>
<line x1="802.5" y1="681" x2="802.5" y2="779" stroke="#e6e6e6" stroke-dasharray="3 3"/>
<line x1="834.5" y1="681" x2="834.5" y2="779" stroke="#e6e6e6" stroke-dasharray="3 3"/>
<line x1="866.5" y1="681" x2="866.5" y2="779" stroke="#e6e6e6" stroke-dasharray="3 3"/>
<line x1="898.5" y1="681" x2="898.5" y2="779" stroke="#e6e6e6" stroke-dasharray="3 3"/>
<line x1="930.5" y1="681" x2="930.5" y2="779" stroke="#e6e6e6" stroke-dasharray="3 3"/>
<line x1="962.5" y1="681" x2="962.5" y2="779" stroke="#e6e6e6" stroke-dasharray="3 3"/>
<line x1="994.5" y1="681" x2="994.5" y2="779" stroke="#e6e6e6" stroke-dasharray="3 3"/>
<line x1="1026.5" y1="681" x2="1026.5" y2="779" stroke="#e6e6e6" stroke-dasharray="3 3"/>
<line x1="1058.5" y1="681" x2="1058.5" y2="779" stroke="#e6e6e6" stroke-dasharray="3 3"/>
<line x1="1090.5" y1="681" x2="1090.5" y2="779" stroke="#e6e6e6" stroke-dasharray="3 3"/>
<line x1="1122.5" y1="681" x2="1122.5" y2="779" stroke="#e6e6e6" stroke-dasharray="3 3"/>
<line x1="1154.5" y1="681" x2="1154.5" y2="779" stroke="#e6e6e6" stroke-dasharray="3 3"/>
<line x1="1186.5" y1="681" x2="1186.5" y2="779" stroke="#e6e6e6" stroke-dasharray="3 3"/>
<line x1="1218.5" y1="681" x2="1218.5" y2="779" stroke="#e6e6e6" stroke-dasharray="3 3"/>
<line x1="2" y1="729.5" x2="1237" y2="729.5" stroke="#e6e6e6" stroke-dasharray="3 3"/>
</g>
<g clip-path="url(#cw0)">
<rect x="0" y="515" width="4" height="43" fill="#008000"/>
<rect x="8" y="515" width="4" height="42" fill="#008000"/>
<rect x="16" y="515" width="4" height="43" fill="#ff0000"/>
<rect x="24" y="515" width="4" height="46" fill="#ff0000"/>
<rect x="32" y="515" width="4" height="48" fill="#ff0000"/>
<rect x="40" y="515" width="4" height="47" fill="#008000"/>
<rect x="48" y="515" width="4" height="44" fill="#008000"/>
<rect x="56" y="515" width="4" height="41" fill="#008000"/>
<rect x="64" y="515" width="4" height="35" fill="#008000"/>
<rect x="72" y="515" width="4" height="29" fill="#008000"/>
<rect x="80" y="515" width="4" height="22" fill="#008000"/>
<rect x="88" y="515" width="4" height="16" fill="#008000"/>
<rect x="96" y="515" width="4" height="9" fill="#008000"/>
<rect x="104" y="515" width="4" height="7" fill="#008000"/>
<rect x="112" y="515" width="4" height="7" fill="#ff0000"/>
<rect x="120" y="515" width="4" height="9" fill="#ff0000"/>
<rect x="128" y="515" width="4" height="11" fill="#ff0000"/>
<rect x="136" y="515" width="4" height="15" fill="#ff0000"/>
<rect x="144" y="515" width="4" height="17" fill="#ff0000"/>
<rect x="152" y="515" width="4" height="18" fill="#ff0000"/>
<rect x="160" y="515" width="4" height="19" fill="#ff0000"/>
<rect x="168" y="515" width="4" height="21" fill="#ff0000"/>
<rect x="176" y="515" width="4" height="22" fill="#ff0000"/>
<rect x="184" y="515" width="4" height="25" fill="#ff0000"/>
<rect x="192" y="515" width="4" height="28" fill="#ff0000"/>
<rect x="200" y="515" width="4" height="29" fill="#ff0000"/>
<rect x="208" y="515" width="4" height="29" fill="#008000"/>
<rect x="216" y="515" width="4" height="29" fill="#008000"/>
<rect x="224" y="515" width="4" height="28" fill="#008000"/>
<rect x="232" y="515" width="4" height="26" fill="#008000"/>
<rect x="240" y="515" width="4" height="25" fill="#008000"/>
<rect x="248" y="515" width="4" height="25" fill="#008000"/>
<rect x="256" y="515" width="4" height="24" fill="#008000"/>
<rect x="264" y="515" width="4" height="23" fill="#008000"/>
<rect x="272" y="515" width="4" height="23" fill="#ff0000"/>
<rect x="280" y="515" width="4" height="24" fill="#ff0000"/>
<rect x="288" y="515" width="4" height="27" fill="#ff0000"/>
<rect x="296" y="515" width="4" height="32" fill="#ff0000"/>
<rect x="304" y="515" width="4" height="37" fill="#ff0000"/>
<rect x="312" y="515" width="4" height="40" fill="#ff0000"/>
<rect x="320" y="515" width="4" height="43" fill="#ff0000"/>
<rect x="328" y="515" width="4" height="45" fill="#ff0000"/>
<rect x="336" y="515" width="4" height="42" fill="#008000"/>
<rect x="344" y="515" width="4" height="37" fill="#008000"/>
<rect x="352" y="515" width="4" height="33" fill="#008000"/>
<rect x="360" y="515" width="4" height="30" fill="#008000"/>
<rect x="368" y="515" width="4" height="29" fill="#008000"/>
<rect x="376" y="515" width="4" height="30" fill="#ff0000"/>
<rect x="384" y="515" width="4" height="28" fill="#008000"/>
<rect x="392" y="515" width="4" height="27" fill="#008000"/>
<rect x="400" y="515" width="4" height="25" fill="#008000"/>
<rect x="408" y="515" width="4" height="21" fill="#008000"/>
<rect x="416" y="515" width="4" height="18" fill="#008000"/>
<rect x="424" y="515" width="4" height="16" fill="#008000"/>
<rect x="432" y="515" width="4" height="12" fill="#008000"/>
<rect x="440" y="515" width="4" height="8" fill="#008000"/>
<rect x="448" y="515" width="4" height="5" fill="#008000"/>
<rect x="456" y="515" width="4" height="3" fill="#008000"/>
<rect x="464" y="515" width="4" height="2" fill="#008000"/>
<rect x="472" y="515" width="4" height="3" fill="#ff0000"/>
<rect x="480" y="515" width="4" height="2" fill="#008000"/>
<rect x="488" y="515" width="4" height="1" fill="#008000"/>
<rect x="496" y="515" width="4" height="1" fill="#008000"/>
<rect x="504" y="513" width="4" height="3" fill="#008000"/>
<rect x="512" y="511" width="4" height="5" fill="#008000"/>
<rect x="520" y="509" width="4" height="7" fill="#008000"/>
<rect x="528" y="506" width="4" height="10" fill="#008000"/>
<rect x="536" y="504" width="4" height="12" fill="#008000"/>
<rect x="544" y="502" width="4" height="14" fill="#008000"/>
<rect x="552" y="500" width="4" height="16" fill="#008000"/>
<rect x="560" y="498" width="4" height="18" fill="#008000"/>
<rect x="568" y="499" width="4" height="17" fill="#ff0000"/>
<rect x="576" y="498" width="4" height="18" fill="#008000"/>
<rect x="584" y="496" width="4" height="20" fill="#008000"/>
<rect x="592" y="492" width="4" height="24" fill="#008000"/>
<rect x="600" y="488" width="4" height="28" fill="#008000"/>
<rect x="608" y="485" width="4" height="31" fill="#008000"/>
<rect x="616" y="484" width="4" height="32" fill="#008000"/>
<rect x="624" y="486" width="4" height="30" fill="#ff0000"/>
<rect x="632" y="489" width="4" height="27" fill="#ff0000"/>
<rect x="640" y="493" width="4" height="23" fill="#ff0000"/>
<rect x="648" y="497" width="4" height="19" fill="#ff0000"/>
<rect x="656" y="500" width="4" height="16" fill="#ff0000"/>
<rect x="664" y="502" width="4" height="14" fill="#ff0000"/>
<rect x="672" y="503" width="4" height="13" fill="#ff0000"/>
<rect x="680" y="503" width="4" height="13" fill="#ff0000"/>
<rect x="688" y="503" width="4" height="13" fill="#008000"/>
<rect x="696" y="500" width="4" height="16" fill="#008000"/>
<rect x="704" y="496" width="4" height="20" fill="#008000"/>
<rect x="712" y="495" width="4" height="21" fill="#008000"/>
<rect x="720" y="497" width="4" height="19" fill="#ff0000"/>
<rect x="728" y="500" width="4" height="16" fill="#ff0000"/>
<rect x="736" y="509" width="4" height="7" fill="#ff0000"/>
<rect x="744" y="515" width="4" height="7" fill="#ff0000"/>
<rect x="752" y="515" width="4" height="19" fill="#ff0000"/>
<rect x="760" y="515" width="4" height="29" fill="#ff0000"/>
<rect x="768" y="515" width="4" height="37" fill="#ff0000"/>
<rect x="776" y="515" width="4" height="40" fill="#ff0000"/>
<rect x="784" y="515" width="4" height="40" fill="#ff0000"/>
<rect x="792" y="515" width="4" height="40" fill="#008000"/>
<rect x="800" y="515" width="4" height="38" fill="#008000"/>
<rect x="808" y="515" width="4" height="39" fill="#ff0000"/>
<rect x="816" y="515" width="4" height="40" fill="#ff0000"/>
<rect x="824" y="515" width="4" height="41" fill="#ff0000"/>
<rect x="832" y="515" width="4" height="41" fill="#ff0000"/>
<rect x="840" y="515" width="4" height="39" fill="#008000"/>
<rect x="848" y="515" width="4" height="36" fill="#008000"/>
<rect x="856" y="515" width="4" height="32" fill="#008000"/>
<rect x="864" y="515" width="4" height="29" fill="#008000"/>
<rect x="872" y="515" width="4" height="27" fill="#008000"/>
<rect x="880" y="515" width="4" height="28" fill="#ff0000"/>
<rect x="888" y="515" width="4" height="27" fill="#008000"/>
<rect x="896" y="515" width="4" height="26" fill="#008000"/>
<rect x="904" y="515" width="4" height="25" fill="#008000"/>
<rect x="912" y="515" width="4" height="22" fill="#008000"/>
<rect x="920" y="515" width="4" height="18" fill="#008000"/>
<rect x="928" y="515" width="4" height="14" fill="#008000"/>
<rect x="936" y="515" width="4" height="11" fill="#008000"/>
<rect x="944" y="515" width="4" height="7" fill="#008000"/>
<rect x="952" y="515" width="4" height="3" fill="#008000"/>
<rect x="960" y="515" width="4" height="1" fill="#008000"/>
<rect x="968" y="513" width="4" height="3" fill="#008000"/>
<rect x="976" y="511" width="4" height="5" fill="#008000"/>
<rect x="984" y="510" width="4" height="6" fill="#008000"/>
<rect x="992" y="508" width="4" height="8" fill="#008000"/>
<rect x="1000" y="505" width="4" height="11" fill="#008000"/>
<rect x="1008" y="504" width="4" height="12" fill="#008000"/>
<rect x="1016" y="502" width="4" height="14" fill="#008000"/>
<rect x="1024" y="501" width="4" height="15" fill="#008000"/>
<rect x="1032" y="502" width="4" height="14" fill="#ff0000"/>
<rect x="1040" y="503" width="4" height="13" fill="#ff0000"/>
<rect x="1048" y="503" width="4" height="13" fill="#ff0000"/>
<rect x="1056" y="508" width="4" height="8" fill="#ff0000"/>
<rect x="1064" y="515" width="4" height="3" fill="#ff0000"/>
<rect x="1072" y="515" width="4" height="16" fill="#ff0000"/>
<rect x="1080" y="515" width="4" height="30" fill="#ff0000"/>
<rect x="1088" y="515" width="4" height="44" fill="#ff0000"/>
<rect x="1096" y="515" width="4" height="51" fill="#ff0000"/>
<rect x="1104" y="515" width="4" height="50" fill="#008000"/>
<rect x="1112" y="515" width="4" height="43" fill="#008000"/>
</g>
<g clip-path="url(#cw1)">
<rect x="0" y="604" width="4" height="10" fill="#008000"/>
<rect x="8" y="606" width="4" height="8" fill="#ff0000"/>
<rect x="16" y="611" width="4" height="3" fill="#ff0000"/>
<rect x="24" y="613" width="4" height="5" fill="#ff0000"/>
<rect x="32" y="613" width="4" height="6" fill="#ff0000"/>
<rect x="40" y="613" width="4" height="4" fill="#008000"/>
<rect x="48" y="610" width="4" height="4" fill="#008000"/>
<rect x="56" y="604" width="4" height="10" fill="#008000"/>
<rect x="64" y="596" width="4" height="18" fill="#008000"/>
<rect x="72" y="592" width="4" height="22" fill="#008000"/>
<rect x="80" y="588" width="4" height="26" fill="#008000"/>
<rect x="88" y="587" width="4" height="27" fill="#008000"/>
<rect x="96" y="586" width="4" height="28" fill="#008000"/>
<rect x="104" y="592" width="4" height="22" fill="#ff0000"/>
<rect x="112" y="602" width="4" height="12" fill="#ff0000"/>
<rect x="120" y="611" width="4" height="3" fill="#ff0000"/>
<rect x="128" y="613" width="4" height="6" fill="#ff0000"/>
<rect x="136" y="613" width="4" height="10" fill="#ff0000"/>
<rect x="144" y="613" width="4" height="11" fill="#ff0000"/>
<rect x="152" y="613" width="4" height="8" fill="#008000"/>
<rect x="160" y="613" width="4" height="6" fill="#008000"/>
<rect x="168" y="613" width="4" height="6" fill="#008000"/>
<rect x="176" y="613" width="4" height="5" fill="#008000"/>
<rect x="184" y="613" width="4" height="7" fill="#ff0000"/>
<rect x="192" y="613" width="4" height="10" fill="#ff0000"/>
<rect x="200" y="613" width="4" height="9" fill="#008000"/>
<rect x="208" y="613" width="4" height="5" fill="#008000"/>
<rect x="216" y="613" width="4" height="2" fill="#008000"/>
<rect x="224" y="611" width="4" height="3" fill="#008000"/>
<rect x="232" y="608" width="4" height="6" fill="#008000"/>
<rect x="240" y="609" width="4" height="5" fill="#ff0000"/>
<rect x="248" y="609" width="4" height="5" fill="#ff0000"/>
<rect x="256" y="609" width="4" height="5" fill="#ff0000"/>
<rect x="264" y="609" width="4" height="5" fill="#008000"/>
<rect x="272" y="611" width="4" height="3" fill="#ff0000"/>
<rect x="280" y="613" width="4" height="1" fill="#ff0000"/>
<rect x="288" y="613" width="4" height="6" fill="#ff0000"/>
<rect x="296" y="613" width="4" height="13" fill="#ff0000"/>
<rect x="304" y="613" width="4" height="16" fill="#ff0000"/>
<rect x="312" y="613" width="4" height="17" fill="#ff0000"/>
<rect x="320" y="613" width="4" height="15" fill="#008000"/>
<rect x="328" y="613" width="4" height="11" fill="#008000"/>
<rect x="336" y="613" width="4" height="1" fill="#008000"/>
<rect x="344" y="603" width="4" height="11" fill="#008000"/>
<rect x="352" y="598" width="4" height="16" fill="#008000"/>
<rect x="360" y="599" width="4" height="15" fill="#ff0000"/>
<rect x="368" y="603" width="4" height="11" fill="#ff0000"/>
<rect x="376" y="608" width="4" height="6" fill="#ff0000"/>
<rect x="384" y="609" width="4" height="5" fill="#ff0000"/>
<rect x="392" y="609" width="4" height="5" fill="#ff0000"/>
<rect x="400" y="607" width="4" height="7" fill="#008000"/>
<rect x="408" y="603" width="4" height="11" fill="#008000"/>
<rect x="416" y="600" width="4" height="14" fill="#008000"/>
<rect x="424" y="601" width="4" height="13" fill="#ff0000"/>
<rect x="432" y="599" width="4" height="15" fill="#008000"/>
<rect x="440" y="598" width="4" height="16" fill="#008000"/>
<rect x="448" y="599" width="4" height="15" fill="#ff0000"/>
<rect x="456" y="601" width="4" height="13" fill="#ff0000"/>
<rect x="464" y="605" width="4" height="9" fill="#ff0000"/>
<rect x="472" y="609" width="4" height="5" fill="#ff0000"/>
<rect x="480" y="611" width="4" height="3" fill="#ff0000"/>
<rect x="488" y="610" width="4" height="4" fill="#008000"/>
<rect x="496" y="609" width="4" height="5" fill="#008000"/>
<rect x="504" y="608" width="4" height="6" fill="#008000"/>
<rect x="512" y="606" width="4" height="8" fill="#008000"/>
<rect x="520" y="605" width="4" height="9" fill="#008000"/>
<rect x="528" y="603" width="4" height="11" fill="#008000"/>
<rect x="536" y="603" width="4" height="11" fill="#008000"/>
<rect x="544" y="603" width="4" height="11" fill="#ff0000"/>
<rect x="552" y="604" width="4" height="10" fill="#ff0000"/>
<rect x="560" y="605" width="4" height="9" fill="#ff0000"/>
<rect x="568" y="609" width="4" height="5" fill="#ff0000"/>
<rect x="576" y="610" width="4" height="4" fill="#ff0000"/>
<rect x="584" y="608" width="4" height="6" fill="#008000"/>
<rect x="592" y="603" width="4" height="11" fill="#008000"/>
<rect x="600" y="600" width="4" height="14" fill="#008000"/>
<rect x="608" y="599" width="4" height="15" fill="#008000"/>
<rect x="616" y="602" width="4" height="12" fill="#ff0000"/>
<rect x="624" y="610" width="4" height="4" fill="#ff0000"/>
<rect x="632" y="613" width="4" height="6" fill="#ff0000"/>
<rect x="640" y="613" width="4" height="12" fill="#ff0000"/>
<rect x="648" y="613" width="4" height="14" fill="#ff0000"/>
<rect x="656" y="613" width="4" height="14" fill="#008000"/>
<rect x="664" y="613" width="4" height="11" fill="#008000"/>
<rect x="672" y="613" width="4" height="7" fill="#008000"/>
<rect x="680" y="613" width="4" height="4" fill="#008000"/>
<rect x="688" y="613" width="4" height="1" fill="#008000"/>
<rect x="696" y="609" width="4" height="5" fill="#008000"/>
<rect x="704" y="603" width="4" height="11" fill="#008000"/>
<rect x="712" y="604" width="4" height="10" fill="#ff0000"/>
<rect x="720" y="610" width="4" height="4" fill="#ff0000"/>
<rect x="728" y="613" width="4" height="5" fill="#ff0000"/>
<rect x="736" y="613" width="4" height="19" fill="#ff0000"/>
<rect x="744" y="613" width="4" height="36" fill="#ff0000"/>
<rect x="752" y="613" width="4" height="44" fill="#ff0000"/>
<rect x="760" y="613" width="4" height="46" fill="#ff0000"/>
<rect x="768" y="613" width="4" height="40" fill="#008000"/>
<rect x="776" y="613" width="4" height="28" fill="#008000"/>
<rect x="784" y="613" width="4" height="15" fill="#008000"/>
<rect x="792" y="613" width="4" height="5" fill="#008000"/>
<rect x="800" y="611" width="4" height="3" fill="#008000"/>
<rect x="808" y="612" width="4" height="2" fill="#ff0000"/>
<rect x="816" y="613" width="4" height="1" fill="#ff0000"/>
<rect x="824" y="613" width="4" height="2" fill="#ff0000"/>
<rect x="832" y="613" width="4" height="2" fill="#008000"/>
<rect x="840" y="611" width="4" height="3" fill="#008000"/>
<rect x="848" y="605" width="4" height="9" fill="#008000"/>
<rect x="856" y="602" width="4" height="12" fill="#008000"/>
<rect x="864" y="600" width="4" height="14" fill="#008000"/>
<rect x="872" y="602" width="4" height="12" fill="#ff0000"/>
<rect x="880" y="607" width="4" height="7" fill="#ff0000"/>
<rect x="888" y="609" width="4" height="5" fill="#ff0000"/>
<rect x="896" y="610" width="4" height="4" fill="#ff0000"/>
<rect x="904" y="609" width="4" height="5" fill="#008000"/>
<rect x="912" y="606" width="4" height="8" fill="#008000"/>
<rect x="920" y="601" width="4" height="13" fill="#008000"/>
<rect x="928" y="599" width="4" height="15" fill="#008000"/>
<rect x="936" y="597" width="4" height="17" fill="#008000"/>
<rect x="944" y="597" width="4" height="17" fill="#008000"/>
<rect x="952" y="597" width="4" height="17" fill="#008000"/>
<rect x="960" y="599" width="4" height="15" fill="#ff0000"/>
<rect x="968" y="600" width="4" height="14" fill="#ff0000"/>
<rect x="976" y="602" width="4" height="12" fill="#ff0000"/>
<rect x="984" y="606" width="4" height="8" fill="#ff0000"/>
<rect x="992" y="606" width="4" height="8" fill="#ff0000"/>
<rect x="1000" y="605" width="4" height="9" fill="#008000"/>
<rect x="1008" y="605" width="4" height="9" fill="#ff0000"/>
<rect x="1016" y="606" width="4" height="8" fill="#ff0000"/>
<rect x="1024" y="607" width="4" height="7" fill="#ff0000"/>
<rect x="1032" y="611" width="4" height="3" fill="#ff0000"/>
<rect x="1040" y="613" width="4" height="1" fill="#ff0000"/>
<rect x="1048" y="613" width="4" height="2" fill="#ff0000"/>
<rect x="1056" y="613" width="4" height="9" fill="#ff0000"/>
<rect x="1064" y="613" width="4" height="22" fill="#ff0000"/>
<rect x="1072" y="613" width="4" height="38" fill="#ff0000"/>
<rect x="1080" y="613" width="4" height="50" fill="#ff0000"/>
<rect x="1088" y="613" width="4" height="55" fill="#ff0000"/>
<rect x="1096" y="613" width="4" height="46" fill="#008000"/>
<rect x="1104" y="613" width="4" height="23" fill="#008000"/>
<rect x="1112" y="611" width="4" height="3" fill="#008000"/>
</g>
<g clip-path="url(#cw2)">
<rect x="0" y="690" width="4" height="40" fill="#008000"/>
<rect x="0" y="729" width="4" height="23" fill="#ff0000"/>
<rect x="8" y="686" width="4" height="44" fill="#008000"/>
<rect x="8" y="729" width="4" height="18" fill="#ff0000"/>
<rect x="16" y="686" width="4" height="44" fill="#ff0000"/>
<rect x="16" y="729" width="4" height="15" fill="#ff0000"/>
<rect x="24" y="686" width="4" height="44" fill="#ff0000"/>
<rect x="24" y="729" width="4" height="17" fill="#008000"/>
<rect x="32" y="696" width="4" height="34" fill="#ff0000"/>
<rect x="32" y="729" width="4" height="23" fill="#008000"/>
<rect x="40" y="697" width="4" height="33" fill="#ff0000"/>
<rect x="40" y="729" width="4" height="28" fill="#008000"/>
<rect x="48" y="686" width="4" height="44" fill="#008000"/>
<rect x="48" y="729" width="4" height="29" fill="#008000"/>
<rect x="56" y="686" width="4" height="44" fill="#008000"/>
<rect x="56" y="729" width="4" height="25" fill="#ff0000"/>
<rect x="64" y="686" width="4" height="44" fill="#008000"/>
<rect x="64" y="729" width="4" height="22" fill="#ff0000"/>
<rect x="72" y="686" width="4" height="44" fill="#ff0000"/>
<rect x="72" y="729" width="4" height="21" fill="#ff0000"/>
<rect x="80" y="686" width="4" height="44" fill="#ff0000"/>
<rect x="80" y="729" width="4" height="21" fill="#ff0000"/>
<rect x="88" y="686" width="4" height="44" fill="#ff0000"/>
<rect x="88" y="729" width="4" height="16" fill="#ff0000"/>
<rect x="96" y="686" width="4" height="44" fill="#ff0000"/>
<rect x="96" y="729" width="4" height="7" fill="#ff0000"/>
<rect x="104" y="698" width="4" height="32" fill="#ff0000"/>
<rect x="104" y="729" width="4" height="3" fill="#ff0000"/>
<rect x="112" y="703" width="4" height="27" fill="#ff0000"/>
<rect x="112" y="729" width="4" height="1" fill="#ff0000"/>
<rect x="120" y="709" width="4" height="21" fill="#ff0000"/>
<rect x="120" y="729" width="4" height="1" fill="#ff0000"/>
<rect x="128" y="712" width="4" height="18" fill="#ff0000"/>
<rect x="128" y="729" width="4" height="2" fill="#008000"/>
<rect x="136" y="714" width="4" height="16" fill="#ff0000"/>
<rect x="136" y="729" width="4" height="5" fill="#008000"/>
<rect x="144" y="714" width="4" height="16" fill="#ff0000"/>
<rect x="144" y="729" width="4" height="6" fill="#008000"/>
<rect x="152" y="713" width="4" height="17" fill="#008000"/>
<rect x="152" y="729" width="4" height="9" fill="#008000"/>
<rect x="160" y="712" width="4" height="18" fill="#008000"/>
<rect x="160" y="729" width="4" height="11" fill="#008000"/>
<rect x="168" y="711" width="4" height="19" fill="#008000"/>
<rect x="168" y="729" width="4" height="12" fill="#008000"/>
<rect x="176" y="710" width="4" height="20" fill="#008000"/>
<rect x="176" y="729" width="4" height="12" fill="#ff0000"/>
<rect x="184" y="709" width="4" height="21" fill="#008000"/>
<rect x="184" y="729" width="4" height="12" fill="#008000"/>
<rect x="192" y="709" width="4" height="21" fill="#ff0000"/>
<rect x="192" y="729" width="4" height="15" fill="#008000"/>
<rect x="200" y="709" width="4" height="21" fill="#ff0000"/>
<rect x="200" y="729" width="4" height="17" fill="#008000"/>
<rect x="208" y="708" width="4" height="22" fill="#008000"/>
<rect x="208" y="729" width="4" height="20" fill="#008000"/>
<rect x="216" y="706" width="4" height="24" fill="#008000"/>
<rect x="216" y="729" width="4" height="22" fill="#008000"/>
<rect x="224" y="703" width="4" height="27" fill="#008000"/>
<rect x="224" y="729" width="4" height="20" fill="#ff0000"/>
<rect x="232" y="702" width="4" height="28" fill="#008000"/>
<rect x="232" y="729" width="4" height="17" fill="#ff0000"/>
<rect x="240" y="702" width="4" height="28" fill="#008000"/>
<rect x="240" y="729" width="4" height="16" fill="#ff0000"/>
<rect x="248" y="703" width="4" height="27" fill="#ff0000"/>
<rect x="248" y="729" width="4" height="17" fill="#008000"/>
<rect x="256" y="705" width="4" height="25" fill="#ff0000"/>
<rect x="256" y="729" width="4" height="17" fill="#ff0000"/>
<rect x="264" y="705" width="4" height="25" fill="#008000"/>
<rect x="264" y="729" width="4" height="15" fill="#ff0000"/>
<rect x="272" y="705" width="4" height="25" fill="#008000"/>
<rect x="272" y="729" width="4" height="13" fill="#ff0000"/>
<rect x="280" y="705" width="4" height="25" fill="#ff0000"/>
<rect x="280" y="729" width="4" height="12" fill="#ff0000"/>
<rect x="288" y="707" width="4" height="23" fill="#ff0000"/>
<rect x="288" y="729" width="4" height="13" fill="#008000"/>
<rect x="296" y="708" width="4" height="22" fill="#ff0000"/>
<rect x="296" y="729" width="4" height="15" fill="#008000"/>
<rect x="304" y="708" width="4" height="22" fill="#008000"/>
<rect x="304" y="729" width="4" height="16" fill="#008000"/>
<rect x="312" y="707" width="4" height="23" fill="#008000"/>
<rect x="312" y="729" width="4" height="18" fill="#008000"/>
<rect x="320" y="706" width="4" height="24" fill="#008000"/>
<rect x="320" y="729" width="4" height="23" fill="#008000"/>
<rect x="328" y="704" width="4" height="26" fill="#008000"/>
<rect x="328" y="729" width="4" height="27" fill="#008000"/>
<rect x="336" y="701" width="4" height="29" fill="#008000"/>
<rect x="336" y="729" width="4" height="27" fill="#008000"/>
<rect x="344" y="697" width="4" height="33" fill="#008000"/>
<rect x="344" y="729" width="4" height="26" fill="#ff0000"/>
<rect x="352" y="695" width="4" height="35" fill="#008000"/>
<rect x="352" y="729" width="4" height="23" fill="#ff0000"/>
<rect x="360" y="695" width="4" height="35" fill="#ff0000"/>
<rect x="360" y="729" width="4" height="18" fill="#ff0000"/>
<rect x="368" y="697" width="4" height="33" fill="#ff0000"/>
<rect x="368" y="729" width="4" height="14" fill="#ff0000"/>
<rect x="376" y="700" width="4" height="30" fill="#ff0000"/>
<rect x="376" y="729" width="4" height="13" fill="#ff0000"/>
<rect x="384" y="703" width="4" height="27" fill="#ff0000"/>
<rect x="384" y="729" width="4" height="15" fill="#008000"/>
<rect x="392" y="705" width="4" height="25" fill="#ff0000"/>
<rect x="392" y="729" width="4" height="18" fill="#008000"/>
<rect x="400" y="705" width="4" height="25" fill="#008000"/>
<rect x="400" y="729" width="4" height="17" fill="#ff0000"/>
<rect x="408" y="702" width="4" height="28" fill="#008000"/>
<rect x="408" y="729" width="4" height="11" fill="#ff0000"/>
<rect x="416" y="702" width="4" height="28" fill="#008000"/>
<rect x="416" y="729" width="4" height="9" fill="#ff0000"/>
<rect x="424" y="706" width="4" height="24" fill="#ff0000"/>
<rect x="424" y="729" width="4" height="11" fill="#008000"/>
<rect x="432" y="708" width="4" height="22" fill="#ff0000"/>
<rect x="432" y="729" width="4" height="9" fill="#ff0000"/>
<rect x="440" y="709" width="4" height="21" fill="#ff0000"/>
<rect x="440" y="729" width="4" height="6" fill="#ff0000"/>
<rect x="448" y="710" width="4" height="20" fill="#ff0000"/>
<rect x="448" y="729" width="4" height="2" fill="#ff0000"/>
<rect x="456" y="712" width="4" height="18" fill="#ff0000"/>
<rect x="456" y="729" width="4" height="2" fill="#ff0000"/>
<rect x="464" y="715" width="4" height="15" fill="#ff0000"/>
<rect x="464" y="729" width="4" height="2" fill="#008000"/>
<rect x="472" y="719" width="4" height="11" fill="#ff0000"/>
<rect x="472" y="729" width="4" height="2" fill="#ff0000"/>
<rect x="480" y="721" width="4" height="9" fill="#ff0000"/>
<rect x="480" y="729" width="4" height="2" fill="#008000"/>
<rect x="488" y="721" width="4" height="9" fill="#ff0000"/>
<rect x="488" y="729" width="4" height="3" fill="#008000"/>
<rect x="496" y="722" width="4" height="8" fill="#ff0000"/>
<rect x="496" y="729" width="4" height="2" fill="#ff0000"/>
<rect x="504" y="723" width="4" height="7" fill="#ff0000"/>
<rect x="504" y="729" width="4" height="1" fill="#ff0000"/>
<rect x="512" y="723" width="4" height="7" fill="#ff0000"/>
<rect x="512" y="729" width="4" height="2" fill="#008000"/>
<rect x="520" y="723" width="4" height="7" fill="#ff0000"/>
<rect x="520" y="729" width="4" height="3" fill="#008000"/>
<rect x="528" y="724" width="4" height="6" fill="#ff0000"/>
<rect x="528" y="729" width="4" height="5" fill="#008000"/>
<rect x="536" y="726" width="4" height="4" fill="#ff0000"/>
<rect x="536" y="729" width="4" height="5" fill="#008000"/>
<rect x="544" y="728" width="4" height="2" fill="#ff0000"/>
<rect x="544" y="729" width="4" height="4" fill="#ff0000"/>
<rect x="552" y="729" width="4" height="7" fill="#008000"/>
<rect x="560" y="729" width="4" height="10" fill="#008000"/>
<rect x="568" y="728" width="4" height="2" fill="#008000"/>
<rect x="568" y="729" width="4" height="11" fill="#008000"/>
<rect x="576" y="726" width="4" height="4" fill="#008000"/>
<rect x="576" y="729" width="4" height="10" fill="#ff0000"/>
<rect x="584" y="723" width="4" height="7" fill="#008000"/>
<rect x="584" y="729" width="4" height="8" fill="#ff0000"/>
<rect x="592" y="723" width="4" height="7" fill="#ff0000"/>
<rect x="592" y="729" width="4" height="9" fill="#008000"/>
<rect x="600" y="723" width="4" height="7" fill="#008000"/>
<rect x="600" y="729" width="4" height="11" fill="#008000"/>
<rect x="608" y="723" width="4" height="7" fill="#ff0000"/>
<rect x="608" y="729" width="4" height="17" fill="#008000"/>
<rect x="616" y="721" width="4" height="9" fill="#008000"/>
<rect x="616" y="729" width="4" height="20" fill="#008000"/>
<rect x="624" y="717" width="4" height="13" fill="#008000"/>
<rect x="624" y="729" width="4" height="20" fill="#008000"/>
<rect x="632" y="713" width="4" height="17" fill="#008000"/>
<rect x="632" y="729" width="4" height="19" fill="#ff0000"/>
<rect x="640" y="711" width="4" height="19" fill="#008000"/>
<rect x="640" y="729" width="4" height="17" fill="#ff0000"/>
<rect x="648" y="710" width="4" height="20" fill="#008000"/>
<rect x="648" y="729" width="4" height="14" fill="#ff0000"/>
<rect x="656" y="711" width="4" height="19" fill="#ff0000"/>
<rect x="656" y="729" width="4" height="10" fill="#ff0000"/>
<rect x="664" y="713" width="4" height="17" fill="#ff0000"/>
<rect x="664" y="729" width="4" height="7" fill="#ff0000"/>
<rect x="672" y="715" width="4" height="15" fill="#ff0000"/>
<rect x="672" y="729" width="4" height="7" fill="#ff0000"/>
<rect x="680" y="718" width="4" height="12" fill="#ff0000"/>
<rect x="680" y="729" width="4" height="5" fill="#ff0000"/>
<rect x="688" y="719" width="4" height="11" fill="#ff0000"/>
<rect x="688" y="729" width="4" height="4" fill="#ff0000"/>
<rect x="696" y="720" width="4" height="10" fill="#ff0000"/>
<rect x="696" y="729" width="4" height="5" fill="#008000"/>
<rect x="704" y="720" width="4" height="10" fill="#ff0000"/>
<rect x="704" y="729" width="4" height="5" fill="#008000"/>
<rect x="712" y="720" width="4" height="10" fill="#ff0000"/>
<rect x="712" y="729" width="4" height="6" fill="#008000"/>
<rect x="720" y="720" width="4" height="10" fill="#008000"/>
<rect x="720" y="729" width="4" height="11" fill="#008000"/>
<rect x="728" y="719" width="4" height="11" fill="#008000"/>
<rect x="728" y="729" width="4" height="16" fill="#008000"/>
<rect x="736" y="717" width="4" height="13" fill="#008000"/>
<rect x="736" y="729" width="4" height="13" fill="#ff0000"/>
<rect x="744" y="713" width="4" height="17" fill="#008000"/>
<rect x="744" y="729" width="4" height="5" fill="#ff0000"/>
<rect x="752" y="713" width="4" height="17" fill="#008000"/>
<rect x="752" y="729" width="4" height="2" fill="#ff0000"/>
<rect x="760" y="717" width="4" height="13" fill="#ff0000"/>
<rect x="760" y="729" width="4" height="10" fill="#008000"/>
<rect x="768" y="723" width="4" height="7" fill="#ff0000"/>
<rect x="768" y="729" width="4" height="21" fill="#008000"/>
<rect x="776" y="729" width="4" height="29" fill="#008000"/>
<rect x="784" y="720" width="4" height="10" fill="#008000"/>
<rect x="784" y="729" width="4" height="32" fill="#008000"/>
<rect x="792" y="712" width="4" height="18" fill="#008000"/>
<rect x="792" y="729" width="4" height="31" fill="#ff0000"/>
<rect x="800" y="706" width="4" height="24" fill="#008000"/>
<rect x="800" y="729" width="4" height="27" fill="#ff0000"/>
<rect x="808" y="705" width="4" height="25" fill="#008000"/>
<rect x="808" y="729" width="4" height="25" fill="#ff0000"/>
<rect x="816" y="705" width="4" height="25" fill="#ff0000"/>
<rect x="816" y="729" width="4" height="24" fill="#ff0000"/>
<rect x="824" y="706" width="4" height="24" fill="#ff0000"/>
<rect x="824" y="729" width="4" height="24" fill="#008000"/>
<rect x="832" y="706" width="4" height="24" fill="#008000"/>
<rect x="832" y="729" width="4" height="26" fill="#008000"/>
<rect x="840" y="705" width="4" height="25" fill="#008000"/>
<rect x="840" y="729" width="4" height="25" fill="#ff0000"/>
<rect x="848" y="703" width="4" height="27" fill="#008000"/>
<rect x="848" y="729" width="4" height="23" fill="#ff0000"/>
<rect x="856" y="702" width="4" height="28" fill="#008000"/>
<rect x="856" y="729" width="4" height="20" fill="#ff0000"/>
<rect x="864" y="703" width="4" height="27" fill="#ff0000"/>
<rect x="864" y="729" width="4" height="16" fill="#ff0000"/>
<rect x="872" y="704" width="4" height="26" fill="#ff0000"/>
<rect x="872" y="729" width="4" height="13" fill="#ff0000"/>
<rect x="880" y="707" width="4" height="23" fill="#ff0000"/>
<rect x="880" y="729" width="4" height="12" fill="#ff0000"/>
<rect x="888" y="709" width="4" height="21" fill="#ff0000"/>
<rect x="888" y="729" width="4" height="10" fill="#ff0000"/>
<rect x="896" y="710" width="4" height="20" fill="#ff0000"/>
<rect x="896" y="729" width="4" height="10" fill="#008000"/>
<rect x="904" y="711" width="4" height="19" fill="#ff0000"/>
<rect x="904" y="729" width="4" height="13" fill="#008000"/>
<rect x="912" y="711" width="4" height="19" fill="#ff0000"/>
<rect x="912" y="729" width="4" height="12" fill="#ff0000"/>
<rect x="920" y="710" width="4" height="20" fill="#008000"/>
<rect x="920" y="729" width="4" height="9" fill="#ff0000"/>
<rect x="928" y="710" width="4" height="20" fill="#008000"/>
<rect x="928" y="729" width="4" height="6" fill="#ff0000"/>
<rect x="936" y="712" width="4" height="18" fill="#ff0000"/>
<rect x="936" y="729" width="4" height="5" fill="#ff0000"/>
<rect x="944" y="714" width="4" height="16" fill="#ff0000"/>
<rect x="944" y="729" width="4" height="2" fill="#ff0000"/>
<rect x="952" y="716" width="4" height="14" fill="#ff0000"/>
<rect x="952" y="729" width="4" height="1" fill="#ff0000"/>
<rect x="960" y="718" width="4" height="12" fill="#ff0000"/>
<rect x="960" y="729" width="4" height="3" fill="#008000"/>
<rect x="968" y="720" width="4" height="10" fill="#ff0000"/>
<rect x="968" y="729" width="4" height="5" fill="#008000"/>
<rect x="976" y="723" width="4" height="7" fill="#ff0000"/>
<rect x="976" y="729" width="4" height="6" fill="#008000"/>
<rect x="984" y="725" width="4" height="5" fill="#ff0000"/>
<rect x="984" y="729" width="4" height="6" fill="#ff0000"/>
<rect x="992" y="727" width="4" height="3" fill="#ff0000"/>
<rect x="992" y="729" width="4" height="5" fill="#ff0000"/>
<rect x="1000" y="728" width="4" height="2" fill="#ff0000"/>
<rect x="1000" y="729" width="4" height="4" fill="#ff0000"/>
<rect x="1008" y="728" width="4" height="2" fill="#ff0000"/>
<rect x="1008" y="729" width="4" height="4" fill="#ff0000"/>
<rect x="1016" y="728" width="4" height="2" fill="#008000"/>
<rect x="1016" y="729" width="4" height="6" fill="#008000"/>
<rect x="1024" y="728" width="4" height="2" fill="#008000"/>
<rect x="1024" y="729" width="4" height="9" fill="#008000"/>
<rect x="1032" y="729" width="4" height="9" fill="#ff0000"/>
<rect x="1040" y="727" width="4" height="3" fill="#008000"/>
<rect x="1040" y="729" width="4" height="7" fill="#ff0000"/>
<rect x="1048" y="725" width="4" height="5" fill="#008000"/>
<rect x="1048" y="729" width="4" height="6" fill="#ff0000"/>
<rect x="1056" y="725" width="4" height="5" fill="#008000"/>
<rect x="1056" y="729" width="4" height="6" fill="#ff0000"/>
<rect x="1064" y="726" width="4" height="4" fill="#ff0000"/>
<rect x="1064" y="729" width="4" height="7" fill="#008000"/>
<rect x="1072" y="726" width="4" height="4" fill="#ff0000"/>
<rect x="1072" y="729" width="4" height="6" fill="#ff0000"/>
<rect x="1080" y="725" width="4" height="5" fill="#008000"/>
<rect x="1080" y="729" width="4" height="4" fill="#ff0000"/>
<rect x="1088" y="725" width="4" height="5" fill="#008000"/>
<rect x="1088" y="729" width="4" height="21" fill="#008000"/>
<rect x="1096" y="729" width="4" height="36" fill="#008000"/>
<rect x="1104" y="718" width="4" height="12" fill="#008000"/>
<rect x="1104" y="729" width="4" height="41" fill="#008000"/>
<rect x="1112" y="704" width="4" height="26" fill="#008000"/>
<rect x="1112" y="729" width="4" height="41" fill="#ff0000"/>
<rect x="1120" y="695" width="4" height="35" fill="#008000"/>
<rect x="1120" y="729" width="4" height="36" fill="#ff0000"/>
<rect x="1128" y="692" width="4" height="38" fill="#008000"/>
<rect x="1128" y="729" width="4" height="28" fill="#ff0000"/>
<rect x="1136" y="694" width="4" height="36" fill="#ff0000"/>
<rect x="1136" y="729" width="4" height="20" fill="#ff0000"/>
<rect x="1144" y="698" width="4" height="32" fill="#ff0000"/>
<rect x="1152" y="703" width="4" height="27" fill="#ff0000"/>
<rect x="4" y="684" width="110" height="10" fill="#fff"/>
</g>
<line x1="2" y1="515.5" x2="1237" y2="515.5" stroke="#ececec" stroke-dasharray="3 3" stroke-width="1"/>
<line x1="2" y1="613.5" x2="1237" y2="613.5" stroke="#ececec" stroke-dasharray="3 3" stroke-width="1"/>
<line x1="2" y1="729.5" x2="1237" y2="729.5" stroke="#ececec" stroke-dasharray="3 3" stroke-width="1"/>
<g fill="#000">
<rect x="2" y="2" width="1236" height="1"/>
<rect x="2" y="473" width="1236" height="1"/>
<rect x="2" y="2" width="1" height="472"/>
<rect x="1237" y="2" width="1" height="472"/>
<rect x="2" y="475" width="1236" height="1"/>
<rect x="2" y="575" width="1236" height="1"/>
<rect x="2" y="475" width="1" height="101"/>
<rect x="1237" y="475" width="1" height="101"/>
<rect x="1238" y="476" width="4" height="1"/>
<rect x="1238" y="574" width="4" height="1"/>
<rect x="2" y="577" width="1236" height="1"/>
<rect x="2" y="677" width="1236" height="1"/>
<rect x="2" y="577" width="1" height="101"/>
<rect x="1237" y="577" width="1" height="101"/>
<rect x="1238" y="578" width="4" height="1"/>
<rect x="1238" y="676" width="4" height="1"/>
<rect x="2" y="679" width="1236" height="1"/>
<rect x="2" y="779" width="1236" height="1"/>
<rect x="2" y="679" width="1" height="101"/>
<rect x="1237" y="679" width="1" height="101"/>
<rect x="1238" y="680" width="4" height="1"/>
<rect x="1238" y="778" width="4" height="1"/>
<rect x="1238" y="26" width="4" height="1"/>
<rect x="1238" y="58" width="4" height="1"/>
<rect x="1238" y="90" width="4" height="1"/>
<rect x="1238" y="122" width="4" height="1"/>
<rect x="1238" y="154" width="4" height="1"/>
<rect x="1238" y="186" width="4" height="1"/>
<rect x="1238" y="218" width="4" height="1"/>
<rect x="1238" y="249" width="4" height="1"/>
<rect x="1238" y="281" width="4" height="1"/>
<rect x="1238" y="313" width="4" height="1"/>
<rect x="1238" y="345" width="4" height="1"/>
<rect x="1238" y="377" width="4" height="1"/>
<rect x="1238" y="409" width="4" height="1"/>
<rect x="1238" y="441" width="4" height="1"/>
<rect x="2" y="780" width="1" height="4"/>
<rect x="66" y="780" width="1" height="4"/>
<rect x="130" y="780" width="1" height="4"/>
<rect x="194" y="780" width="1" height="4"/>
<rect x="258" y="780" width="1" height="4"/>
<rect x="322" y="780" width="1" height="4"/>
<rect x="386" y="780" width="1" height="4"/>
<rect x="450" y="780" width="1" height="4"/>
<rect x="514" y="780" width="1" height="4"/>
<rect x="578" y="780" width="1" height="4"/>
<rect x="642" y="780" width="1" height="4"/>
<rect x="706" y="780" width="1" height="4"/>
<rect x="770" y="780" width="1" height="4"/>
<rect x="834" y="780" width="1" height="4"/>
<rect x="898" y="780" width="1" height="4"/>
<rect x="962" y="780" width="1" height="4"/>
<rect x="1026" y="780" width="1" height="4"/>
<rect x="1090" y="780" width="1" height="4"/>
</g>
<g font-family="Liberation Sans, sans-serif" font-size="9.7px" shape-rendering="geometricPrecision" text-rendering="geometricPrecision" filter="url(#crisp)">
<text transform="translate(1243,30) scale(0.94,1)" fill="#000" text-anchor="start">3.990</text>
<text transform="translate(1243,62) scale(0.94,1)" fill="#000" text-anchor="start">3.950</text>
<text transform="translate(1243,94) scale(0.94,1)" fill="#000" text-anchor="start">3.910</text>
<text transform="translate(1243,126) scale(0.94,1)" fill="#000" text-anchor="start">3.870</text>
<text transform="translate(1243,158) scale(0.94,1)" fill="#000" text-anchor="start">3.830</text>
<text transform="translate(1243,190) scale(0.94,1)" fill="#000" text-anchor="start">3.790</text>
<text transform="translate(1243,222) scale(0.94,1)" fill="#000" text-anchor="start">3.750</text>
<text transform="translate(1243,253) scale(0.94,1)" fill="#000" text-anchor="start">3.710</text>
<text transform="translate(1243,285) scale(0.94,1)" fill="#000" text-anchor="start">3.670</text>
<text transform="translate(1243,317) scale(0.94,1)" fill="#000" text-anchor="start">3.630</text>
<text transform="translate(1243,349) scale(0.94,1)" fill="#000" text-anchor="start">3.590</text>
<text transform="translate(1243,381) scale(0.94,1)" fill="#000" text-anchor="start">3.550</text>
<text transform="translate(1243,413) scale(0.94,1)" fill="#000" text-anchor="start">3.510</text>
<text transform="translate(1243,445) scale(0.94,1)" fill="#000" text-anchor="start">3.470</text>
<text transform="translate(1243,484) scale(0.94,1)" fill="#000" text-anchor="start">0.1318</text>
<text transform="translate(1243,518) scale(0.94,1)" fill="#000" text-anchor="start">0.0000</text>
<text transform="translate(1243,573) scale(0.94,1)" fill="#000" text-anchor="start">-0.1946</text>
<text transform="translate(1243,586) scale(0.94,1)" fill="#000" text-anchor="start">0.05635</text>
<text transform="translate(1243,616) scale(0.94,1)" fill="#000" text-anchor="start">0.00000</text>
<text transform="translate(1243,675) scale(0.94,1)" fill="#000" text-anchor="start">-0.10128</text>
<text transform="translate(1243,688) scale(0.94,1)" fill="#000" text-anchor="start">0.1025</text>
<text transform="translate(1243,732) scale(0.94,1)" fill="#000" text-anchor="start">0.0000</text>
<text transform="translate(1243,777) scale(0.94,1)" fill="#000" text-anchor="start">-0.1006</text>
<text transform="translate(2.4,792) scale(0.94,1)" fill="#000" text-anchor="start">12 Dec 2025</text>
<text transform="translate(66.4,792) scale(0.94,1)" fill="#000" text-anchor="start">15 Dec 01:00</text>
<text transform="translate(130.4,792) scale(0.94,1)" fill="#000" text-anchor="start">15 Dec 09:00</text>
<text transform="translate(194.4,792) scale(0.94,1)" fill="#000" text-anchor="start">15 Dec 17:00</text>
<text transform="translate(258.4,792) scale(0.94,1)" fill="#000" text-anchor="start">16 Dec 03:00</text>
<text transform="translate(322.4,792) scale(0.94,1)" fill="#000" text-anchor="start">16 Dec 11:00</text>
<text transform="translate(386.4,792) scale(0.94,1)" fill="#000" text-anchor="start">16 Dec 19:00</text>
<text transform="translate(450.4,792) scale(0.94,1)" fill="#000" text-anchor="start">17 Dec 05:00</text>
<text transform="translate(514.4,792) scale(0.94,1)" fill="#000" text-anchor="start">17 Dec 13:00</text>
<text transform="translate(578.4,792) scale(0.94,1)" fill="#000" text-anchor="start">17 Dec 21:00</text>
<text transform="translate(642.4,792) scale(0.94,1)" fill="#000" text-anchor="start">18 Dec 07:00</text>
<text transform="translate(706.4,792) scale(0.94,1)" fill="#000" text-anchor="start">18 Dec 15:00</text>
<text transform="translate(770.4,792) scale(0.94,1)" fill="#000" text-anchor="start">19 Dec 01:00</text>
<text transform="translate(834.4,792) scale(0.94,1)" fill="#000" text-anchor="start">19 Dec 09:00</text>
<text transform="translate(898.4,792) scale(0.94,1)" fill="#000" text-anchor="start">19 Dec 17:00</text>
<text transform="translate(962.4,792) scale(0.94,1)" fill="#000" text-anchor="start">22 Dec 03:00</text>
<text transform="translate(1026.4,792) scale(0.94,1)" fill="#000" text-anchor="start">22 Dec 11:00</text>
<text transform="translate(1090.4,792) scale(0.94,1)" fill="#000" text-anchor="start">22 Dec 19:00</text>
<text transform="translate(6,488) scale(0.965,1)" fill="#000" text-anchor="start">AOcust -0.1386</text>
<text transform="translate(6,590) scale(0.965,1)" fill="#000" text-anchor="start">ACcust 0.00267</text>
<text transform="translate(6,692) scale(0.958,1)" fill="#000" text-anchor="start">GatorCust 0.0531 -0.0398</text>
</g>
<rect x="1240" y="367" width="29" height="11" fill="#cc0000"/>
<g font-family="Liberation Sans, sans-serif" font-size="9.7px" shape-rendering="geometricPrecision" filter="url(#crispw)"><text transform="translate(1243,375.4) scale(0.94,1)" fill="#fff" text-anchor="start">3.556</text></g>
</svg>
</body></html>
